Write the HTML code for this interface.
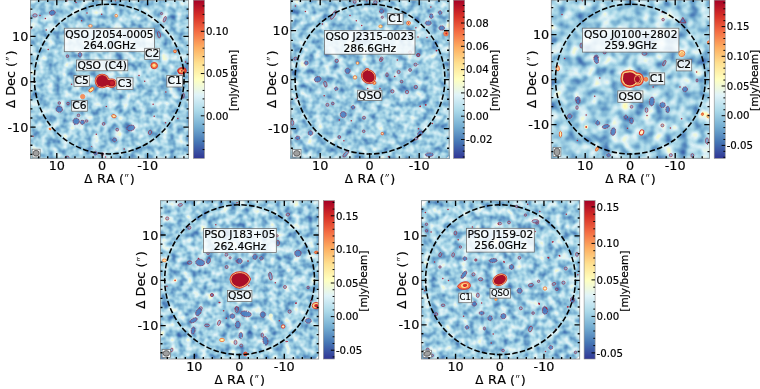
<!DOCTYPE html>
<html><head><meta charset="utf-8"><title>fig</title>
<style>html,body{margin:0;padding:0;background:#fff;overflow:hidden}svg{display:block}text{font-family:"DejaVu Sans","Liberation Sans",sans-serif;fill:#000;stroke:#000;stroke-width:0.18px}</style>
</head><body>
<svg width="760" height="389" viewBox="0 0 760 389">
<defs>
<filter id="rag" x="-2%" y="-2%" width="104%" height="104%"><feTurbulence type="fractalNoise" baseFrequency="0.3" numOctaves="1" seed="5" result="n"/><feDisplacementMap in="SourceGraphic" in2="n" scale="1.7" xChannelSelector="R" yChannelSelector="G"/></filter>
<filter id="nz1" x="0" y="0" width="100%" height="100%" color-interpolation-filters="sRGB">
<feTurbulence type="fractalNoise" baseFrequency="0.13" numOctaves="2" seed="3" result="t"/>
<feColorMatrix type="matrix" values="1 0 0 0 0  1 0 0 0 0  1 0 0 0 0  0 0 0 0 1"/>
<feComponentTransfer><feFuncR type="table" tableValues="0.216 0.225 0.233 0.241 0.250 0.258 0.266 0.280 0.300 0.319 0.339 0.358 0.378 0.398 0.417 0.437 0.457 0.480 0.503 0.526 0.549 0.571 0.594 0.617 0.640 0.663 0.686 0.708 0.730 0.752 0.774 0.796 0.818 0.840 0.863 0.882 0.895 0.908 0.921 0.934 0.947 0.960 0.973 0.986 0.998 1.000 0.999 0.999"/><feFuncG type="table" tableValues="0.287 0.314 0.340 0.366 0.393 0.419 0.445 0.470 0.493 0.517 0.540 0.564 0.587 0.610 0.634 0.657 0.680 0.698 0.717 0.735 0.753 0.772 0.790 0.808 0.827 0.845 0.858 0.869 0.880 0.891 0.902 0.913 0.923 0.934 0.945 0.954 0.959 0.964 0.969 0.974 0.979 0.984 0.989 0.994 0.999 0.989 0.976 0.963"/><feFuncB type="table" tableValues="0.622 0.635 0.647 0.660 0.673 0.686 0.699 0.712 0.724 0.736 0.748 0.760 0.772 0.784 0.796 0.808 0.820 0.830 0.840 0.850 0.860 0.870 0.880 0.891 0.901 0.911 0.918 0.924 0.931 0.937 0.943 0.949 0.956 0.962 0.968 0.966 0.942 0.918 0.895 0.871 0.847 0.823 0.799 0.776 0.752 0.732 0.712 0.693"/></feComponentTransfer>
</filter>
<linearGradient id="cb1" x1="0" y1="0" x2="0" y2="1"><stop offset="0%" stop-color="#a50026"/><stop offset="10%" stop-color="#d73027"/><stop offset="20%" stop-color="#f46d43"/><stop offset="30%" stop-color="#fdae61"/><stop offset="40%" stop-color="#fee090"/><stop offset="50%" stop-color="#ffffbf"/><stop offset="60%" stop-color="#e0f3f8"/><stop offset="70%" stop-color="#abd9e9"/><stop offset="80%" stop-color="#74add1"/><stop offset="90%" stop-color="#4575b4"/><stop offset="100%" stop-color="#313695"/></linearGradient>
<clipPath id="cl1"><rect x="30.4" y="0.1" width="158.2" height="158.2"/></clipPath>
<filter id="nz2" x="0" y="0" width="100%" height="100%" color-interpolation-filters="sRGB">
<feTurbulence type="fractalNoise" baseFrequency="0.13" numOctaves="2" seed="7" result="t"/>
<feColorMatrix type="matrix" values="1 0 0 0 0  1 0 0 0 0  1 0 0 0 0  0 0 0 0 1"/>
<feComponentTransfer><feFuncR type="table" tableValues="0.214 0.223 0.231 0.239 0.248 0.256 0.264 0.275 0.295 0.315 0.334 0.354 0.373 0.393 0.413 0.432 0.452 0.474 0.497 0.520 0.543 0.566 0.589 0.612 0.635 0.658 0.680 0.702 0.725 0.747 0.769 0.791 0.813 0.835 0.857 0.879 0.892 0.905 0.918 0.931 0.944 0.957 0.970 0.982 0.995 1.000 0.999 0.999"/><feFuncG type="table" tableValues="0.281 0.308 0.334 0.360 0.386 0.413 0.439 0.465 0.488 0.511 0.535 0.558 0.581 0.605 0.628 0.651 0.675 0.694 0.712 0.731 0.749 0.767 0.786 0.804 0.822 0.841 0.856 0.867 0.877 0.888 0.899 0.910 0.921 0.932 0.943 0.953 0.958 0.963 0.968 0.973 0.978 0.983 0.988 0.993 0.998 0.992 0.979 0.966"/><feFuncB type="table" tableValues="0.618 0.631 0.644 0.657 0.670 0.683 0.696 0.709 0.721 0.733 0.745 0.757 0.769 0.781 0.794 0.806 0.818 0.828 0.838 0.848 0.858 0.868 0.878 0.888 0.898 0.908 0.916 0.923 0.929 0.935 0.942 0.948 0.954 0.960 0.967 0.972 0.948 0.924 0.900 0.876 0.853 0.829 0.805 0.781 0.758 0.736 0.717 0.697"/></feComponentTransfer>
</filter>
<linearGradient id="cb2" x1="0" y1="0" x2="0" y2="1"><stop offset="0%" stop-color="#a50026"/><stop offset="10%" stop-color="#d73027"/><stop offset="20%" stop-color="#f46d43"/><stop offset="30%" stop-color="#fdae61"/><stop offset="40%" stop-color="#fee090"/><stop offset="50%" stop-color="#ffffbf"/><stop offset="60%" stop-color="#e0f3f8"/><stop offset="70%" stop-color="#abd9e9"/><stop offset="80%" stop-color="#74add1"/><stop offset="90%" stop-color="#4575b4"/><stop offset="100%" stop-color="#313695"/></linearGradient>
<clipPath id="cl2"><rect x="290.9" y="0.1" width="158.2" height="158.2"/></clipPath>
<filter id="nz3" x="0" y="0" width="100%" height="100%" color-interpolation-filters="sRGB">
<feTurbulence type="fractalNoise" baseFrequency="0.09" numOctaves="2" seed="11" result="t"/>
<feColorMatrix type="matrix" values="1 0 0 0 0  1 0 0 0 0  1 0 0 0 0  0 0 0 0 1"/>
<feComponentTransfer><feFuncR type="table" tableValues="0.193 0.203 0.212 0.221 0.231 0.240 0.249 0.259 0.268 0.286 0.308 0.330 0.352 0.374 0.396 0.418 0.440 0.463 0.489 0.515 0.540 0.566 0.592 0.617 0.643 0.669 0.694 0.718 0.743 0.768 0.793 0.817 0.842 0.867 0.886 0.901 0.915 0.930 0.944 0.959 0.973 0.988 1.000 0.999 0.999 0.999 0.998 0.998"/><feFuncG type="table" tableValues="0.215 0.244 0.274 0.303 0.333 0.362 0.392 0.421 0.450 0.478 0.504 0.530 0.556 0.582 0.608 0.635 0.661 0.685 0.706 0.726 0.747 0.767 0.788 0.808 0.829 0.850 0.862 0.874 0.887 0.899 0.911 0.923 0.935 0.947 0.956 0.962 0.967 0.973 0.978 0.984 0.990 0.995 0.998 0.983 0.969 0.954 0.940 0.926"/><feFuncB type="table" tableValues="0.586 0.600 0.615 0.629 0.644 0.658 0.673 0.687 0.702 0.716 0.729 0.743 0.756 0.770 0.783 0.797 0.810 0.823 0.834 0.846 0.857 0.868 0.879 0.890 0.902 0.913 0.920 0.927 0.934 0.941 0.948 0.955 0.962 0.969 0.958 0.932 0.905 0.878 0.852 0.825 0.798 0.772 0.746 0.724 0.702 0.680 0.658 0.636"/></feComponentTransfer>
</filter>
<linearGradient id="cb3" x1="0" y1="0" x2="0" y2="1"><stop offset="0%" stop-color="#a50026"/><stop offset="10%" stop-color="#d73027"/><stop offset="20%" stop-color="#f46d43"/><stop offset="30%" stop-color="#fdae61"/><stop offset="40%" stop-color="#fee090"/><stop offset="50%" stop-color="#ffffbf"/><stop offset="60%" stop-color="#e0f3f8"/><stop offset="70%" stop-color="#abd9e9"/><stop offset="80%" stop-color="#74add1"/><stop offset="90%" stop-color="#4575b4"/><stop offset="100%" stop-color="#313695"/></linearGradient>
<clipPath id="cl3"><rect x="551.3" y="0.1" width="158.2" height="158.2"/></clipPath>
<filter id="nz4" x="0" y="0" width="100%" height="100%" color-interpolation-filters="sRGB">
<feTurbulence type="fractalNoise" baseFrequency="0.13" numOctaves="2" seed="17" result="t"/>
<feColorMatrix type="matrix" values="1 0 0 0 0  1 0 0 0 0  1 0 0 0 0  0 0 0 0 1"/>
<feComponentTransfer><feFuncR type="table" tableValues="0.200 0.209 0.218 0.227 0.236 0.245 0.254 0.263 0.274 0.295 0.316 0.337 0.359 0.380 0.401 0.422 0.443 0.466 0.491 0.516 0.540 0.565 0.590 0.615 0.640 0.664 0.688 0.712 0.736 0.760 0.784 0.808 0.832 0.856 0.879 0.893 0.907 0.921 0.935 0.949 0.963 0.977 0.991 1.000 0.999 0.999 0.998 0.998"/><feFuncG type="table" tableValues="0.236 0.264 0.293 0.321 0.350 0.378 0.406 0.435 0.463 0.488 0.513 0.538 0.564 0.589 0.614 0.639 0.665 0.687 0.707 0.727 0.747 0.767 0.786 0.806 0.826 0.846 0.860 0.871 0.883 0.895 0.907 0.918 0.930 0.942 0.953 0.959 0.964 0.969 0.975 0.980 0.986 0.991 0.996 0.995 0.981 0.967 0.953 0.939"/><feFuncB type="table" tableValues="0.596 0.610 0.624 0.638 0.652 0.666 0.680 0.694 0.708 0.721 0.734 0.747 0.760 0.773 0.786 0.799 0.812 0.824 0.835 0.846 0.857 0.868 0.879 0.889 0.900 0.911 0.919 0.926 0.932 0.939 0.946 0.953 0.959 0.966 0.971 0.946 0.920 0.894 0.869 0.843 0.817 0.792 0.766 0.742 0.721 0.699 0.678 0.657"/></feComponentTransfer>
</filter>
<linearGradient id="cb4" x1="0" y1="0" x2="0" y2="1"><stop offset="0%" stop-color="#a50026"/><stop offset="10%" stop-color="#d73027"/><stop offset="20%" stop-color="#f46d43"/><stop offset="30%" stop-color="#fdae61"/><stop offset="40%" stop-color="#fee090"/><stop offset="50%" stop-color="#ffffbf"/><stop offset="60%" stop-color="#e0f3f8"/><stop offset="70%" stop-color="#abd9e9"/><stop offset="80%" stop-color="#74add1"/><stop offset="90%" stop-color="#4575b4"/><stop offset="100%" stop-color="#313695"/></linearGradient>
<clipPath id="cl4"><rect x="160.5" y="200.7" width="158.2" height="158.3"/></clipPath>
<filter id="nz5" x="0" y="0" width="100%" height="100%" color-interpolation-filters="sRGB">
<feTurbulence type="fractalNoise" baseFrequency="0.13" numOctaves="2" seed="23" result="t"/>
<feColorMatrix type="matrix" values="1 0 0 0 0  1 0 0 0 0  1 0 0 0 0  0 0 0 0 1"/>
<feComponentTransfer><feFuncR type="table" tableValues="0.217 0.225 0.233 0.242 0.250 0.258 0.267 0.281 0.300 0.320 0.340 0.359 0.379 0.399 0.418 0.438 0.458 0.481 0.504 0.527 0.550 0.572 0.595 0.618 0.641 0.664 0.687 0.709 0.731 0.753 0.775 0.797 0.819 0.841 0.863 0.883 0.896 0.908 0.921 0.934 0.947 0.960 0.973 0.986 0.999 1.000 0.999 0.999"/><feFuncG type="table" tableValues="0.289 0.315 0.341 0.367 0.394 0.420 0.446 0.471 0.494 0.518 0.541 0.565 0.588 0.611 0.635 0.658 0.681 0.699 0.717 0.736 0.754 0.772 0.791 0.809 0.828 0.846 0.859 0.870 0.881 0.891 0.902 0.913 0.924 0.935 0.946 0.955 0.960 0.965 0.970 0.975 0.980 0.985 0.990 0.995 1.000 0.988 0.975 0.962"/><feFuncB type="table" tableValues="0.622 0.635 0.648 0.661 0.674 0.687 0.700 0.712 0.724 0.736 0.749 0.761 0.773 0.785 0.797 0.809 0.821 0.831 0.841 0.851 0.861 0.871 0.881 0.891 0.901 0.911 0.918 0.925 0.931 0.937 0.943 0.950 0.956 0.962 0.968 0.965 0.941 0.917 0.893 0.870 0.846 0.822 0.798 0.775 0.751 0.731 0.711 0.692"/></feComponentTransfer>
</filter>
<linearGradient id="cb5" x1="0" y1="0" x2="0" y2="1"><stop offset="0%" stop-color="#a50026"/><stop offset="10%" stop-color="#d73027"/><stop offset="20%" stop-color="#f46d43"/><stop offset="30%" stop-color="#fdae61"/><stop offset="40%" stop-color="#fee090"/><stop offset="50%" stop-color="#ffffbf"/><stop offset="60%" stop-color="#e0f3f8"/><stop offset="70%" stop-color="#abd9e9"/><stop offset="80%" stop-color="#74add1"/><stop offset="90%" stop-color="#4575b4"/><stop offset="100%" stop-color="#313695"/></linearGradient>
<clipPath id="cl5"><rect x="421.4" y="200.7" width="158.3" height="158.3"/></clipPath>
</defs>
<rect width="760" height="389" fill="#fff"/>
<g opacity="0.999">
<rect x="30.4" y="0.1" width="158.2" height="158.2" fill="#9acbe1" filter="url(#nz1)"/>
<g clip-path="url(#cl1)">
<g filter="url(#rag)"><ellipse cx="35" cy="15.4" rx="2.2" ry="1.7" transform="rotate(0 35 15.4)" fill="#4377bd" fill-opacity="0.45" stroke="#9c1f3a" stroke-width="0.6"/><ellipse cx="52.3" cy="12.8" rx="3" ry="2.4" transform="rotate(-20 52.3 12.8)" fill="#4377bd" fill-opacity="0.85" stroke="#9c1f3a" stroke-width="0.6" stroke-dasharray="1.7 0.6"/><ellipse cx="80" cy="54.7" rx="1.8" ry="2.5" transform="rotate(0 80 54.7)" fill="#4377bd" fill-opacity="0.85" stroke="#9c1f3a" stroke-width="0.6" stroke-dasharray="1.7 0.6"/><ellipse cx="67.4" cy="56.2" rx="1.3" ry="1.3" transform="rotate(0 67.4 56.2)" fill="#4377bd" fill-opacity="0.45" stroke="#9c1f3a" stroke-width="0.6"/><ellipse cx="164.7" cy="19.3" rx="1.2" ry="3" transform="rotate(20 164.7 19.3)" fill="#4377bd" fill-opacity="0.45" stroke="#9c1f3a" stroke-width="0.6"/><ellipse cx="159" cy="34.7" rx="1.5" ry="3.2" transform="rotate(-10 159 34.7)" fill="#4377bd" fill-opacity="0.45" stroke="#9c1f3a" stroke-width="0.6"/><ellipse cx="161.6" cy="13.6" rx="1.1" ry="1.1" transform="rotate(0 161.6 13.6)" fill="#4377bd" fill-opacity="0.45" stroke="#9c1f3a" stroke-width="0.6"/><ellipse cx="59.3" cy="109.3" rx="3.2" ry="3" transform="rotate(0 59.3 109.3)" fill="#4377bd" fill-opacity="0.85" stroke="#9c1f3a" stroke-width="0.6" stroke-dasharray="1.7 0.6"/><ellipse cx="59.3" cy="103" rx="1.3" ry="1.3" transform="rotate(0 59.3 103)" fill="#4377bd" fill-opacity="0.45" stroke="#9c1f3a" stroke-width="0.6"/><ellipse cx="68" cy="103.6" rx="1.3" ry="1.3" transform="rotate(0 68 103.6)" fill="#4377bd" fill-opacity="0.45" stroke="#9c1f3a" stroke-width="0.6"/><ellipse cx="76.2" cy="121.3" rx="3.2" ry="3" transform="rotate(0 76.2 121.3)" fill="#4377bd" fill-opacity="0.85" stroke="#9c1f3a" stroke-width="0.6" stroke-dasharray="1.7 0.6"/><ellipse cx="82.4" cy="122.3" rx="2" ry="2.2" transform="rotate(0 82.4 122.3)" fill="#4377bd" fill-opacity="0.85" stroke="#9c1f3a" stroke-width="0.6" stroke-dasharray="1.7 0.6"/><ellipse cx="86.5" cy="121" rx="1.6" ry="1.1" transform="rotate(0 86.5 121)" fill="#4377bd" fill-opacity="0.45" stroke="#9c1f3a" stroke-width="0.6"/><ellipse cx="78.5" cy="115.4" rx="1.3" ry="1.3" transform="rotate(0 78.5 115.4)" fill="#4377bd" fill-opacity="0.45" stroke="#9c1f3a" stroke-width="0.6"/><ellipse cx="130.8" cy="128" rx="4" ry="2.8" transform="rotate(-15 130.8 128)" fill="#4377bd" fill-opacity="0.85" stroke="#9c1f3a" stroke-width="0.6" stroke-dasharray="1.7 0.6"/><ellipse cx="117.2" cy="129.7" rx="1.4" ry="1.4" transform="rotate(0 117.2 129.7)" fill="#4377bd" fill-opacity="0.45" stroke="#9c1f3a" stroke-width="0.6"/><ellipse cx="114.6" cy="139.8" rx="2" ry="2" transform="rotate(0 114.6 139.8)" fill="#4377bd" fill-opacity="0.85" stroke="#9c1f3a" stroke-width="0.6" stroke-dasharray="1.7 0.6"/><ellipse cx="150" cy="132.4" rx="1.6" ry="2.2" transform="rotate(20 150 132.4)" fill="#4377bd" fill-opacity="0.45" stroke="#9c1f3a" stroke-width="0.6"/><ellipse cx="103.6" cy="123.9" rx="1.4" ry="1.4" transform="rotate(0 103.6 123.9)" fill="#4377bd" fill-opacity="0.45" stroke="#9c1f3a" stroke-width="0.6"/><ellipse cx="95.5" cy="153.2" rx="1.9" ry="1.9" transform="rotate(0 95.5 153.2)" fill="#4377bd" fill-opacity="0.85" stroke="#9c1f3a" stroke-width="0.6" stroke-dasharray="1.7 0.6"/><ellipse cx="102.4" cy="154.2" rx="1.4" ry="1.4" transform="rotate(0 102.4 154.2)" fill="#4377bd" fill-opacity="0.45" stroke="#9c1f3a" stroke-width="0.6"/><ellipse cx="67" cy="157.6" rx="2" ry="1.5" transform="rotate(0 67 157.6)" fill="#4377bd" fill-opacity="0.45" stroke="#9c1f3a" stroke-width="0.6"/><ellipse cx="183.2" cy="95.8" rx="1" ry="2.6" transform="rotate(10 183.2 95.8)" fill="#4377bd" fill-opacity="0.45" stroke="#9c1f3a" stroke-width="0.6"/><circle cx="40" cy="15.4" r="0.75" fill="#a8283f"/><circle cx="45.4" cy="18.5" r="0.75" fill="#a8283f"/><circle cx="67" cy="0.8" r="0.75" fill="#a8283f"/><circle cx="76" cy="2.5" r="0.75" fill="#a8283f"/><circle cx="87" cy="13" r="0.75" fill="#a8283f"/><circle cx="101.7" cy="14.2" r="0.75" fill="#a8283f"/><circle cx="81.6" cy="20.8" r="0.75" fill="#a8283f"/><circle cx="48.2" cy="49.6" r="0.75" fill="#a8283f"/><circle cx="46.2" cy="30" r="0.75" fill="#a8283f"/><circle cx="31" cy="28.5" r="0.75" fill="#a8283f"/><circle cx="115.4" cy="0.8" r="0.75" fill="#a8283f"/><circle cx="139" cy="75.5" r="0.75" fill="#a8283f"/><circle cx="144.7" cy="81.2" r="0.75" fill="#a8283f"/><circle cx="165.8" cy="92" r="0.75" fill="#a8283f"/><circle cx="153.1" cy="104.3" r="0.75" fill="#a8283f"/><circle cx="185.5" cy="62" r="0.75" fill="#a8283f"/><circle cx="154.2" cy="116.2" r="0.75" fill="#a8283f"/><circle cx="165.5" cy="122.8" r="0.75" fill="#a8283f"/><circle cx="177.8" cy="118.5" r="0.75" fill="#a8283f"/><circle cx="124.2" cy="149" r="0.75" fill="#a8283f"/><circle cx="71.6" cy="84.3" r="0.75" fill="#a8283f"/><circle cx="106.3" cy="106.6" r="0.75" fill="#a8283f"/><circle cx="96.3" cy="134.2" r="0.75" fill="#a8283f"/><circle cx="33" cy="136.2" r="0.75" fill="#a8283f"/><circle cx="91.6" cy="147" r="0.75" fill="#a8283f"/><circle cx="105.5" cy="157" r="0.75" fill="#a8283f"/><ellipse cx="90.4" cy="25.9" rx="1.8" ry="1.2" transform="rotate(0 90.4 25.9)" fill="#fff5d8" stroke="#ee7a40" stroke-width="0.9"/><ellipse cx="116.2" cy="15.7" rx="1.3" ry="1.3" transform="rotate(0 116.2 15.7)" fill="#fff0c0" stroke="#ee7a40" stroke-width="0.9"/><ellipse cx="175" cy="51.3" rx="1.4" ry="1.4" transform="rotate(0 175 51.3)" fill="#fdb56a" stroke="#e2592f" stroke-width="0.9"/><ellipse cx="113.9" cy="116.2" rx="2.2" ry="1.5" transform="rotate(15 113.9 116.2)" fill="#fee9a5" stroke="#e2592f" stroke-width="0.9"/><ellipse cx="50" cy="129" rx="1" ry="0.6" transform="rotate(30 50 129)" fill="#f98e52" stroke="#ee7a40" stroke-width="0.9"/></g><ellipse cx="82.7" cy="96.6" rx="2.2" ry="2.2" transform="rotate(0 82.7 96.6)" fill="#f4925f" stroke="#f08a5a" stroke-width="0.9"/><ellipse cx="91.4" cy="89.7" rx="3" ry="1.6" transform="rotate(-38 91.4 89.7)" fill="#ffe68f" stroke="#e6622f" stroke-width="0.9"/><ellipse cx="154.2" cy="65.6" rx="3.3" ry="3.1" transform="rotate(0 154.2 65.6)" fill="#f57f4a" stroke="#d73027" stroke-width="0.9"/><circle cx="154.1" cy="65.3" r="1.6" fill="#fee08b"/><ellipse cx="182" cy="70.8" rx="4.3" ry="3.2" transform="rotate(-8 182 70.8)" fill="#e5502f" stroke="#c4202a" stroke-width="0.9"/><ellipse cx="181.4" cy="70.9" rx="2.3" ry="1.7" fill="#fdd27a"/><ellipse cx="181.8" cy="70.9" rx="1.1" ry="0.8" fill="#c4202a"/><ellipse cx="102.1" cy="81.0" rx="7.35" ry="7.25" transform="rotate(0 102.1 81.0)" fill="#d73027"/><ellipse cx="111.6" cy="83.2" rx="5.15" ry="4.75" transform="rotate(0 111.6 83.2)" fill="#d73027"/><ellipse cx="107" cy="82.4" rx="4.75" ry="4.35" transform="rotate(0 107 82.4)" fill="#d73027"/><ellipse cx="102.1" cy="81.0" rx="6.6" ry="6.5" transform="rotate(0 102.1 81.0)" fill="#fdc776"/><ellipse cx="111.6" cy="83.2" rx="4.3999999999999995" ry="4.0" transform="rotate(0 111.6 83.2)" fill="#fdc776"/><ellipse cx="107" cy="82.4" rx="4.0" ry="3.6" transform="rotate(0 107 82.4)" fill="#fdc776"/><ellipse cx="102.1" cy="81.0" rx="6.0" ry="5.9" transform="rotate(0 102.1 81.0)" fill="#a90f28"/><ellipse cx="111.6" cy="83.2" rx="3.8" ry="3.4" transform="rotate(0 111.6 83.2)" fill="#a90f28"/><ellipse cx="107" cy="82.4" rx="3.4" ry="3.0" transform="rotate(0 107 82.4)" fill="#a90f28"/><circle cx="112" cy="83" r="2.1" fill="#c4202c"/>
<circle cx="109.2" cy="79.05" r="74.85" fill="none" stroke="#000" stroke-width="1.55" stroke-dasharray="5.5 2.2"/>
<rect x="64.3" y="28.2" width="90.2" height="23.5" fill="#fff" fill-opacity="0.82" stroke="#6a6a6a" stroke-width="0.75"/><text x="109.4" y="37.6" font-size="10.7" text-anchor="middle" stroke-width="0.15">QSO J2054-0005</text><text x="109.4" y="49.1" font-size="10.7" text-anchor="middle" stroke-width="0.15">264.0GHz</text><rect x="76.5" y="60" width="51.3" height="10.8" fill="#fff" fill-opacity="0.82" stroke="#6a6a6a" stroke-width="0.75"/><text x="102.2" y="68.5" font-size="10.7" text-anchor="middle" stroke-width="0.15">QSO (C4)</text><rect x="74" y="75.6" width="15.3" height="10.7" fill="#fff" fill-opacity="0.82" stroke="#6a6a6a" stroke-width="0.75"/><text x="81.7" y="84.0" font-size="10.7" text-anchor="middle" stroke-width="0.15">C5</text><rect x="116.8" y="77.8" width="16.2" height="11.8" fill="#fff" fill-opacity="0.82" stroke="#6a6a6a" stroke-width="0.75"/><text x="124.9" y="86.8" font-size="10.7" text-anchor="middle" stroke-width="0.15">C3</text><rect x="71.7" y="100.5" width="15.6" height="10.7" fill="#fff" fill-opacity="0.82" stroke="#6a6a6a" stroke-width="0.75"/><text x="79.5" y="109.0" font-size="10.7" text-anchor="middle" stroke-width="0.15">C6</text><rect x="144.7" y="48.3" width="14.9" height="11.1" fill="#fff" fill-opacity="0.82" stroke="#6a6a6a" stroke-width="0.75"/><text x="152.1" y="56.9" font-size="10.7" text-anchor="middle" stroke-width="0.15">C2</text><rect x="166.8" y="75.5" width="15.7" height="11.5" fill="#fff" fill-opacity="0.82" stroke="#6a6a6a" stroke-width="0.75"/><text x="174.7" y="84.4" font-size="10.7" text-anchor="middle" stroke-width="0.15">C1</text>
</g>
<rect x="32.1" y="149.2" width="8.0" height="7.9" fill="#fff" fill-opacity="0.9" stroke="#707070" stroke-width="0.7"/>
<ellipse cx="36.1" cy="153.2" rx="3.0" ry="2.9" transform="rotate(0 36.1 153.2)" fill="#a0a0a0" stroke="#505050" stroke-width="0.8"/>
<rect x="30.4" y="0.1" width="158.2" height="158.2" fill="none" stroke="#8a8a8a" stroke-width="0.8"/>
<path d="M183.92 0.1v2.0M183.92 158.29999999999998v-2.0M174.84 0.1v2.0M174.84 158.29999999999998v-2.0M30.4 154.34h2.0M188.6 154.34h-2.0M165.76 0.1v2.0M165.76 158.29999999999998v-2.0M30.4 145.26h2.0M188.6 145.26h-2.0M156.68 0.1v2.0M156.68 158.29999999999998v-2.0M30.4 136.18h2.0M188.6 136.18h-2.0M147.60 0.1v5.2M147.60 158.29999999999998v-5.2M30.4 127.10h5.2M188.6 127.10h-5.2M138.52 0.1v2.0M138.52 158.29999999999998v-2.0M30.4 118.02h2.0M188.6 118.02h-2.0M129.44 0.1v2.0M129.44 158.29999999999998v-2.0M30.4 108.94h2.0M188.6 108.94h-2.0M120.36 0.1v2.0M120.36 158.29999999999998v-2.0M30.4 99.86h2.0M188.6 99.86h-2.0M111.28 0.1v2.0M111.28 158.29999999999998v-2.0M30.4 90.78h2.0M188.6 90.78h-2.0M102.20 0.1v5.2M102.20 158.29999999999998v-5.2M30.4 81.70h5.2M188.6 81.70h-5.2M93.12 0.1v2.0M93.12 158.29999999999998v-2.0M30.4 72.62h2.0M188.6 72.62h-2.0M84.04 0.1v2.0M84.04 158.29999999999998v-2.0M30.4 63.54h2.0M188.6 63.54h-2.0M74.96 0.1v2.0M74.96 158.29999999999998v-2.0M30.4 54.46h2.0M188.6 54.46h-2.0M65.88 0.1v2.0M65.88 158.29999999999998v-2.0M30.4 45.38h2.0M188.6 45.38h-2.0M56.80 0.1v5.2M56.80 158.29999999999998v-5.2M30.4 36.30h5.2M188.6 36.30h-5.2M47.72 0.1v2.0M47.72 158.29999999999998v-2.0M30.4 27.22h2.0M188.6 27.22h-2.0M38.64 0.1v2.0M38.64 158.29999999999998v-2.0M30.4 18.14h2.0M188.6 18.14h-2.0M30.4 9.06h2.0M188.6 9.06h-2.0" stroke="#000" stroke-width="1.35" fill="none"/>
<text x="56.8" y="170.2" font-size="12.8" text-anchor="middle">10</text>
<text x="28.3" y="40.9" font-size="12.8" text-anchor="end">10</text>
<text x="102.2" y="170.2" font-size="12.8" text-anchor="middle">0</text>
<text x="28.3" y="86.3" font-size="12.8" text-anchor="end">0</text>
<text x="147.6" y="170.2" font-size="12.8" text-anchor="middle">-10</text>
<text x="28.3" y="131.7" font-size="12.8" text-anchor="end">-10</text>
<text y="182.8" font-size="12.8" style="font-kerning:none"><tspan x="84.3" font-size="11.9">Δ</tspan><tspan x="97.0">R</tspan><tspan x="106.2">A (</tspan><tspan x="129.8">)</tspan></text>
<text x="124.8" y="187.2" font-size="18" textLength="3.9" lengthAdjust="spacingAndGlyphs" stroke-width="0.1">′′</text>
<g transform="translate(15.0 79.4) rotate(-90)"><text y="0" font-size="12.8" style="font-kerning:none"><tspan x="-28.7" font-size="11.9">Δ</tspan><tspan x="-16.4">Dec (</tspan><tspan x="23.8">)</tspan></text><text x="18.8" y="4.4" font-size="18" textLength="3.9" lengthAdjust="spacingAndGlyphs" stroke-width="0.1">′′</text></g>
<rect x="193.4" y="0.1" width="11" height="158.2" fill="url(#cb1)" stroke="#8a8a8a" stroke-width="0.6"/>
<text x="205.9" y="119.5" font-size="10.2" stroke-width="0.28">0.00</text>
<text x="205.9" y="77.2" font-size="10.2" stroke-width="0.28">0.05</text>
<text x="205.9" y="35.0" font-size="10.2" stroke-width="0.28">0.10</text>
<path d="M204.4 149.60h-1.8M204.4 141.15h-1.8M204.4 132.70h-1.8M204.4 124.25h-1.8M204.4 115.80h-3.6M204.4 107.35h-1.8M204.4 98.90h-1.8M204.4 90.45h-1.8M204.4 82.00h-1.8M204.4 73.55h-3.6M204.4 65.10h-1.8M204.4 56.65h-1.8M204.4 48.20h-1.8M204.4 39.75h-1.8M204.4 31.30h-3.6M204.4 22.85h-1.8M204.4 14.40h-1.8M204.4 5.95h-1.8" stroke="#000" stroke-width="1" fill="none"/>
<text transform="translate(237.3 80.4) rotate(-90)" font-size="10.5" text-anchor="middle" stroke-width="0.25">[mJy/beam]</text>
<rect x="290.9" y="0.1" width="158.2" height="158.2" fill="#98cae1" filter="url(#nz2)"/>
<g clip-path="url(#cl2)">
<g filter="url(#rag)"><path d="M449.1 158.3h-2.4l2.4-2.6z" fill="#fff"/><ellipse cx="333.5" cy="15" rx="1.6" ry="5" transform="rotate(32 333.5 15)" fill="#4377bd" fill-opacity="0.45" stroke="#9c1f3a" stroke-width="0.6"/><ellipse cx="354.7" cy="1.8" rx="1.5" ry="1.5" transform="rotate(0 354.7 1.8)" fill="#4377bd" fill-opacity="0.45" stroke="#9c1f3a" stroke-width="0.6"/><ellipse cx="295.4" cy="58.6" rx="1.5" ry="1.5" transform="rotate(0 295.4 58.6)" fill="#4377bd" fill-opacity="0.45" stroke="#9c1f3a" stroke-width="0.6"/><ellipse cx="381.6" cy="11.1" rx="2.2" ry="2.2" transform="rotate(0 381.6 11.1)" fill="#4377bd" fill-opacity="0.85" stroke="#9c1f3a" stroke-width="0.6" stroke-dasharray="1.7 0.6"/><ellipse cx="375.4" cy="2.3" rx="1.7" ry="1.7" transform="rotate(0 375.4 2.3)" fill="#4377bd" fill-opacity="0.45" stroke="#9c1f3a" stroke-width="0.6"/><ellipse cx="382.3" cy="17.3" rx="1.1" ry="1.1" transform="rotate(0 382.3 17.3)" fill="#4377bd" fill-opacity="0.45" stroke="#9c1f3a" stroke-width="0.6"/><ellipse cx="428.2" cy="23.1" rx="3" ry="2.2" transform="rotate(0 428.2 23.1)" fill="#4377bd" fill-opacity="0.85" stroke="#9c1f3a" stroke-width="0.6" stroke-dasharray="1.7 0.6"/><ellipse cx="431.3" cy="16.2" rx="1.8" ry="2.4" transform="rotate(0 431.3 16.2)" fill="#4377bd" fill-opacity="0.85" stroke="#9c1f3a" stroke-width="0.6" stroke-dasharray="1.7 0.6"/><ellipse cx="440.1" cy="12.6" rx="1.8" ry="1.8" transform="rotate(0 440.1 12.6)" fill="#4377bd" fill-opacity="0.85" stroke="#9c1f3a" stroke-width="0.6" stroke-dasharray="1.7 0.6"/><ellipse cx="441.7" cy="28" rx="2.8" ry="2.2" transform="rotate(0 441.7 28)" fill="#4377bd" fill-opacity="0.85" stroke="#9c1f3a" stroke-width="0.6" stroke-dasharray="1.7 0.6"/><ellipse cx="418.5" cy="55" rx="1.5" ry="1.5" transform="rotate(0 418.5 55)" fill="#4377bd" fill-opacity="0.45" stroke="#9c1f3a" stroke-width="0.6"/><ellipse cx="381.6" cy="58.6" rx="1.5" ry="1.5" transform="rotate(0 381.6 58.6)" fill="#4377bd" fill-opacity="0.45" stroke="#9c1f3a" stroke-width="0.6"/><ellipse cx="306.2" cy="63.1" rx="2" ry="2" transform="rotate(0 306.2 63.1)" fill="#4377bd" fill-opacity="0.85" stroke="#9c1f3a" stroke-width="0.6" stroke-dasharray="1.7 0.6"/><ellipse cx="336.7" cy="60.8" rx="1.7" ry="1.7" transform="rotate(0 336.7 60.8)" fill="#4377bd" fill-opacity="0.45" stroke="#9c1f3a" stroke-width="0.6"/><ellipse cx="347.6" cy="70.8" rx="2.6" ry="2.6" transform="rotate(0 347.6 70.8)" fill="#4377bd" fill-opacity="0.85" stroke="#9c1f3a" stroke-width="0.6" stroke-dasharray="1.7 0.6"/><ellipse cx="317.7" cy="79.3" rx="3.4" ry="2.6" transform="rotate(-20 317.7 79.3)" fill="#4377bd" fill-opacity="0.85" stroke="#9c1f3a" stroke-width="0.6" stroke-dasharray="1.7 0.6"/><ellipse cx="325.4" cy="84.2" rx="1.5" ry="3" transform="rotate(-15 325.4 84.2)" fill="#4377bd" fill-opacity="0.45" stroke="#9c1f3a" stroke-width="0.6"/><ellipse cx="336.2" cy="88.8" rx="1.8" ry="1.8" transform="rotate(0 336.2 88.8)" fill="#4377bd" fill-opacity="0.85" stroke="#9c1f3a" stroke-width="0.6" stroke-dasharray="1.7 0.6"/><circle cx="324.2" cy="95.8" r="0.8" fill="#a8283f"/><ellipse cx="327.4" cy="104.8" rx="1.5" ry="1.5" transform="rotate(0 327.4 104.8)" fill="#4377bd" fill-opacity="0.45" stroke="#9c1f3a" stroke-width="0.6"/><ellipse cx="332.8" cy="103.5" rx="1.3" ry="1.3" transform="rotate(0 332.8 103.5)" fill="#4377bd" fill-opacity="0.45" stroke="#9c1f3a" stroke-width="0.6"/><ellipse cx="353.1" cy="107.2" rx="1.8" ry="1.8" transform="rotate(0 353.1 107.2)" fill="#4377bd" fill-opacity="0.85" stroke="#9c1f3a" stroke-width="0.6" stroke-dasharray="1.7 0.6"/><ellipse cx="380.8" cy="60" rx="1.5" ry="1.5" transform="rotate(0 380.8 60)" fill="#4377bd" fill-opacity="0.45" stroke="#9c1f3a" stroke-width="0.6"/><ellipse cx="387" cy="74.7" rx="1.2" ry="2" transform="rotate(0 387 74.7)" fill="#4377bd" fill-opacity="0.45" stroke="#9c1f3a" stroke-width="0.6"/><ellipse cx="398.6" cy="72" rx="1.6" ry="1.6" transform="rotate(0 398.6 72)" fill="#4377bd" fill-opacity="0.45" stroke="#9c1f3a" stroke-width="0.6"/><circle cx="394.7" cy="76.5" r="0.8" fill="#a8283f"/><ellipse cx="410.1" cy="70" rx="1.4" ry="1.4" transform="rotate(0 410.1 70)" fill="#4377bd" fill-opacity="0.45" stroke="#9c1f3a" stroke-width="0.6"/><ellipse cx="415.5" cy="64.6" rx="1.5" ry="1.5" transform="rotate(0 415.5 64.6)" fill="#4377bd" fill-opacity="0.45" stroke="#9c1f3a" stroke-width="0.6"/><ellipse cx="401.6" cy="81.6" rx="1.3" ry="1.3" transform="rotate(0 401.6 81.6)" fill="#4377bd" fill-opacity="0.45" stroke="#9c1f3a" stroke-width="0.6"/><ellipse cx="392.4" cy="91.3" rx="1.6" ry="1.6" transform="rotate(0 392.4 91.3)" fill="#4377bd" fill-opacity="0.45" stroke="#9c1f3a" stroke-width="0.6"/><ellipse cx="407" cy="92.1" rx="1.7" ry="1.7" transform="rotate(0 407 92.1)" fill="#4377bd" fill-opacity="0.45" stroke="#9c1f3a" stroke-width="0.6"/><ellipse cx="415.8" cy="87" rx="1.7" ry="1.7" transform="rotate(0 415.8 87)" fill="#4377bd" fill-opacity="0.45" stroke="#9c1f3a" stroke-width="0.6"/><ellipse cx="410.1" cy="52.3" rx="1.5" ry="1.5" transform="rotate(0 410.1 52.3)" fill="#4377bd" fill-opacity="0.45" stroke="#9c1f3a" stroke-width="0.6"/><ellipse cx="418" cy="55.1" rx="1.5" ry="1.5" transform="rotate(0 418 55.1)" fill="#4377bd" fill-opacity="0.45" stroke="#9c1f3a" stroke-width="0.6"/><ellipse cx="343.2" cy="114.6" rx="3" ry="3" transform="rotate(0 343.2 114.6)" fill="#4377bd" fill-opacity="0.85" stroke="#9c1f3a" stroke-width="0.6" stroke-dasharray="1.7 0.6"/><ellipse cx="364" cy="117.7" rx="1.5" ry="1.5" transform="rotate(0 364 117.7)" fill="#4377bd" fill-opacity="0.45" stroke="#9c1f3a" stroke-width="0.6"/><ellipse cx="363.7" cy="131.3" rx="1.3" ry="1.3" transform="rotate(0 363.7 131.3)" fill="#4377bd" fill-opacity="0.45" stroke="#9c1f3a" stroke-width="0.6"/><ellipse cx="310.5" cy="133.1" rx="2.3" ry="2.3" transform="rotate(0 310.5 133.1)" fill="#4377bd" fill-opacity="0.85" stroke="#9c1f3a" stroke-width="0.6" stroke-dasharray="1.7 0.6"/><ellipse cx="297.7" cy="137.8" rx="2.2" ry="1.8" transform="rotate(0 297.7 137.8)" fill="#4377bd" fill-opacity="0.85" stroke="#9c1f3a" stroke-width="0.6" stroke-dasharray="1.7 0.6"/><ellipse cx="292.3" cy="122.8" rx="1.5" ry="2.5" transform="rotate(0 292.3 122.8)" fill="#4377bd" fill-opacity="0.45" stroke="#9c1f3a" stroke-width="0.6"/><ellipse cx="339.3" cy="137" rx="1.4" ry="1.4" transform="rotate(0 339.3 137)" fill="#4377bd" fill-opacity="0.45" stroke="#9c1f3a" stroke-width="0.6"/><ellipse cx="345.8" cy="153.9" rx="1.5" ry="4" transform="rotate(40 345.8 153.9)" fill="#4377bd" fill-opacity="0.45" stroke="#9c1f3a" stroke-width="0.6"/><ellipse cx="420.1" cy="133.6" rx="3" ry="1.9" transform="rotate(-40 420.1 133.6)" fill="#4377bd" fill-opacity="0.85" stroke="#9c1f3a" stroke-width="0.6" stroke-dasharray="1.7 0.6"/><ellipse cx="416.2" cy="138.5" rx="2" ry="1.2" transform="rotate(-30 416.2 138.5)" fill="#4377bd" fill-opacity="0.45" stroke="#9c1f3a" stroke-width="0.6"/><ellipse cx="429.3" cy="154.7" rx="4" ry="1.8" transform="rotate(0 429.3 154.7)" fill="#4377bd" fill-opacity="0.85" stroke="#9c1f3a" stroke-width="0.6" stroke-dasharray="1.7 0.6"/><circle cx="418.5" cy="128.8" r="0.8" fill="#a8283f"/><circle cx="295.4" cy="5.9" r="0.75" fill="#a8283f"/><circle cx="305.4" cy="11.6" r="0.75" fill="#a8283f"/><circle cx="322.4" cy="23.9" r="0.75" fill="#a8283f"/><circle cx="350" cy="15.4" r="0.75" fill="#a8283f"/><circle cx="356.3" cy="20.8" r="0.75" fill="#a8283f"/><circle cx="361.7" cy="25.4" r="0.75" fill="#a8283f"/><circle cx="366.7" cy="0.8" r="0.75" fill="#a8283f"/><circle cx="415.9" cy="27.7" r="0.75" fill="#a8283f"/><circle cx="418" cy="37" r="0.75" fill="#a8283f"/><circle cx="427" cy="37.4" r="0.75" fill="#a8283f"/><circle cx="430.9" cy="6.9" r="0.75" fill="#a8283f"/><circle cx="436.3" cy="50.8" r="0.75" fill="#a8283f"/><circle cx="296.2" cy="98.5" r="0.75" fill="#a8283f"/><circle cx="397.3" cy="60" r="0.75" fill="#a8283f"/><circle cx="367.7" cy="88.5" r="0.75" fill="#a8283f"/><circle cx="380" cy="88.5" r="0.75" fill="#a8283f"/><circle cx="339.3" cy="120" r="0.75" fill="#a8283f"/><circle cx="351.3" cy="120.8" r="0.75" fill="#a8283f"/><circle cx="343.9" cy="140.8" r="0.75" fill="#a8283f"/><circle cx="420.1" cy="106.5" r="0.75" fill="#a8283f"/><circle cx="425.8" cy="104.9" r="0.75" fill="#a8283f"/><circle cx="432.4" cy="123.4" r="0.75" fill="#a8283f"/><circle cx="388.5" cy="156.7" r="0.75" fill="#a8283f"/><circle cx="436.7" cy="50.6" r="0.75" fill="#a8283f"/><circle cx="420.3" cy="106.2" r="0.75" fill="#a8283f"/><circle cx="425.7" cy="104.7" r="0.75" fill="#a8283f"/></g><ellipse cx="408.5" cy="23.1" rx="1.9" ry="1.9" transform="rotate(0 408.5 23.1)" fill="#fee3a0" stroke="#ea6a35" stroke-width="0.9"/><circle cx="408.5" cy="23.1" r="0.8" fill="#c8202c"/><ellipse cx="380.5" cy="26.3" rx="1.7" ry="1.3" transform="rotate(0 380.5 26.3)" fill="#fff2a8" stroke="#f08a4a" stroke-width="0.9"/><ellipse cx="446" cy="33.6" rx="2.3" ry="2.3" transform="rotate(0 446 33.6)" fill="#f68a55" stroke="#ef7045" stroke-width="0.9"/><circle cx="446.3" cy="33.6" r="1" fill="#c8202c"/><ellipse cx="357.5" cy="63.1" rx="1.2" ry="1.2" transform="rotate(0 357.5 63.1)" fill="#fff2c0" stroke="#f08a4a" stroke-width="0.9"/><ellipse cx="355" cy="77.4" rx="1.7" ry="1.7" transform="rotate(0 355 77.4)" fill="#fff2c0" stroke="#ee7a40" stroke-width="0.9"/><ellipse cx="382.3" cy="133.6" rx="1.2" ry="1.2" transform="rotate(0 382.3 133.6)" fill="#fde0b0" stroke="#e2592f" stroke-width="0.9"/><ellipse cx="374.3" cy="82.8" rx="1.6" ry="1.6" transform="rotate(0 374.3 82.8)" fill="#fdbb6e" stroke="#e6622f" stroke-width="0.9"/><ellipse cx="368.5" cy="76.6" rx="7.949999999999999" ry="6.949999999999999" transform="rotate(40 368.5 76.6)" fill="#d73027"/><ellipse cx="367.2" cy="70.2" rx="2.1500000000000004" ry="2.1500000000000004" transform="rotate(0 367.2 70.2)" fill="#d73027"/><ellipse cx="368.5" cy="76.6" rx="7.199999999999999" ry="6.199999999999999" transform="rotate(40 368.5 76.6)" fill="#fdc776"/><ellipse cx="367.2" cy="70.2" rx="1.4" ry="1.4" transform="rotate(0 367.2 70.2)" fill="#fdc776"/><ellipse cx="368.5" cy="76.6" rx="6.6" ry="5.6" transform="rotate(40 368.5 76.6)" fill="#a90f28"/><ellipse cx="367.2" cy="70.2" rx="0.8" ry="0.8" transform="rotate(0 367.2 70.2)" fill="#a90f28"/>
<circle cx="370.0" cy="79.1" r="74.9" fill="none" stroke="#000" stroke-width="1.55" stroke-dasharray="5.5 2.2"/>
<rect x="324.5" y="30.6" width="90.5" height="23.6" fill="#fff" fill-opacity="0.82" stroke="#6a6a6a" stroke-width="0.75"/><text x="369.8" y="40.1" font-size="10.7" text-anchor="middle" stroke-width="0.15">QSO J2315-0023</text><text x="369.8" y="51.6" font-size="10.7" text-anchor="middle" stroke-width="0.15">286.6GHz</text><rect x="387.7" y="13.6" width="15.4" height="11.1" fill="#fff" fill-opacity="0.82" stroke="#6a6a6a" stroke-width="0.75"/><text x="395.4" y="22.2" font-size="10.7" text-anchor="middle" stroke-width="0.15">C1</text><rect x="357.7" y="90.2" width="24.2" height="10.4" fill="#fff" fill-opacity="0.82" stroke="#6a6a6a" stroke-width="0.75"/><text x="369.8" y="98.5" font-size="10.7" text-anchor="middle" stroke-width="0.15">QSO</text>
</g>
<rect x="292.6" y="149.5" width="8.4" height="7.6" fill="#fff" fill-opacity="0.9" stroke="#707070" stroke-width="0.7"/>
<ellipse cx="296.8" cy="153.3" rx="3.2" ry="2.8" transform="rotate(0 296.8 153.3)" fill="#a0a0a0" stroke="#505050" stroke-width="0.8"/>
<rect x="290.9" y="0.1" width="158.2" height="158.2" fill="none" stroke="#8a8a8a" stroke-width="0.8"/>
<path d="M439.00 0.1v2.0M439.00 158.29999999999998v-2.0M290.9 148.20h2.0M449.09999999999997 148.20h-2.0M429.10 0.1v2.0M429.10 158.29999999999998v-2.0M290.9 138.40h2.0M449.09999999999997 138.40h-2.0M419.20 0.1v5.2M419.20 158.29999999999998v-5.2M290.9 128.60h5.2M449.09999999999997 128.60h-5.2M409.30 0.1v2.0M409.30 158.29999999999998v-2.0M290.9 118.80h2.0M449.09999999999997 118.80h-2.0M399.40 0.1v2.0M399.40 158.29999999999998v-2.0M290.9 109.00h2.0M449.09999999999997 109.00h-2.0M389.50 0.1v2.0M389.50 158.29999999999998v-2.0M290.9 99.20h2.0M449.09999999999997 99.20h-2.0M379.60 0.1v2.0M379.60 158.29999999999998v-2.0M290.9 89.40h2.0M449.09999999999997 89.40h-2.0M369.70 0.1v5.2M369.70 158.29999999999998v-5.2M290.9 79.60h5.2M449.09999999999997 79.60h-5.2M359.80 0.1v2.0M359.80 158.29999999999998v-2.0M290.9 69.80h2.0M449.09999999999997 69.80h-2.0M349.90 0.1v2.0M349.90 158.29999999999998v-2.0M290.9 60.00h2.0M449.09999999999997 60.00h-2.0M340.00 0.1v2.0M340.00 158.29999999999998v-2.0M290.9 50.20h2.0M449.09999999999997 50.20h-2.0M330.10 0.1v2.0M330.10 158.29999999999998v-2.0M290.9 40.40h2.0M449.09999999999997 40.40h-2.0M320.20 0.1v5.2M320.20 158.29999999999998v-5.2M290.9 30.60h5.2M449.09999999999997 30.60h-5.2M310.30 0.1v2.0M310.30 158.29999999999998v-2.0M290.9 20.80h2.0M449.09999999999997 20.80h-2.0M300.40 0.1v2.0M300.40 158.29999999999998v-2.0M290.9 11.00h2.0M449.09999999999997 11.00h-2.0M290.9 1.20h2.0M449.09999999999997 1.20h-2.0" stroke="#000" stroke-width="1.35" fill="none"/>
<text x="320.2" y="170.2" font-size="12.8" text-anchor="middle">10</text>
<text x="288.8" y="35.2" font-size="12.8" text-anchor="end">10</text>
<text x="369.7" y="170.2" font-size="12.8" text-anchor="middle">0</text>
<text x="288.8" y="84.2" font-size="12.8" text-anchor="end">0</text>
<text x="419.2" y="170.2" font-size="12.8" text-anchor="middle">-10</text>
<text x="288.8" y="133.2" font-size="12.8" text-anchor="end">-10</text>
<text y="182.8" font-size="12.8" style="font-kerning:none"><tspan x="344.8" font-size="11.9">Δ</tspan><tspan x="357.5">R</tspan><tspan x="366.7">A (</tspan><tspan x="390.3">)</tspan></text>
<text x="385.3" y="187.2" font-size="18" textLength="3.9" lengthAdjust="spacingAndGlyphs" stroke-width="0.1">′′</text>
<g transform="translate(275.5 79.4) rotate(-90)"><text y="0" font-size="12.8" style="font-kerning:none"><tspan x="-28.7" font-size="11.9">Δ</tspan><tspan x="-16.4">Dec (</tspan><tspan x="23.8">)</tspan></text><text x="18.8" y="4.4" font-size="18" textLength="3.9" lengthAdjust="spacingAndGlyphs" stroke-width="0.1">′′</text></g>
<rect x="453.6" y="0.1" width="11" height="158.2" fill="url(#cb2)" stroke="#8a8a8a" stroke-width="0.6"/>
<text x="466.1" y="143.2" font-size="10.2" stroke-width="0.28">-0.02</text>
<text x="466.1" y="119.9" font-size="10.2" stroke-width="0.28">0.00</text>
<text x="466.1" y="96.6" font-size="10.2" stroke-width="0.28">0.02</text>
<text x="466.1" y="73.3" font-size="10.2" stroke-width="0.28">0.04</text>
<text x="466.1" y="50.0" font-size="10.2" stroke-width="0.28">0.06</text>
<text x="466.1" y="26.7" font-size="10.2" stroke-width="0.28">0.08</text>
<path d="M464.6 156.98h-1.8M464.6 151.15h-1.8M464.6 145.32h-1.8M464.6 139.50h-3.6M464.6 133.68h-1.8M464.6 127.85h-1.8M464.6 122.03h-1.8M464.6 116.20h-3.6M464.6 110.38h-1.8M464.6 104.55h-1.8M464.6 98.72h-1.8M464.6 92.90h-3.6M464.6 87.08h-1.8M464.6 81.25h-1.8M464.6 75.42h-1.8M464.6 69.60h-3.6M464.6 63.77h-1.8M464.6 57.95h-1.8M464.6 52.12h-1.8M464.6 46.30h-3.6M464.6 40.47h-1.8M464.6 34.65h-1.8M464.6 28.83h-1.8M464.6 23.00h-3.6M464.6 17.17h-1.8M464.6 11.35h-1.8M464.6 5.53h-1.8" stroke="#000" stroke-width="1" fill="none"/>
<text transform="translate(497.5 80.4) rotate(-90)" font-size="10.5" text-anchor="middle" stroke-width="0.25">[mJy/beam]</text>
<rect x="551.3" y="0.1" width="158.2" height="158.2" fill="#9acbe2" filter="url(#nz3)"/>
<g clip-path="url(#cl3)">
<g filter="url(#rag)"><ellipse cx="581.2" cy="45.6" rx="1.2" ry="2.5" transform="rotate(0 581.2 45.6)" fill="#4377bd" fill-opacity="0.45" stroke="#9c1f3a" stroke-width="0.6"/><ellipse cx="596.2" cy="57.3" rx="2.2" ry="2.2" transform="rotate(0 596.2 57.3)" fill="#4377bd" fill-opacity="0.85" stroke="#9c1f3a" stroke-width="0.6" stroke-dasharray="1.7 0.6"/><ellipse cx="644.4" cy="53.6" rx="2.4" ry="1.7" transform="rotate(0 644.4 53.6)" fill="#4377bd" fill-opacity="0.45" stroke="#9c1f3a" stroke-width="0.6"/><ellipse cx="663.1" cy="19.6" rx="1.3" ry="1.3" transform="rotate(0 663.1 19.6)" fill="#4377bd" fill-opacity="0.45" stroke="#9c1f3a" stroke-width="0.6"/><polygon points="682.8,17.4 685.9,22.8 679.7,22.8" fill="#4377bd" fill-opacity="0.9" stroke="#9c1f3a" stroke-width="0.7" stroke-linejoin="round"/><ellipse cx="596.2" cy="59.8" rx="2.2" ry="3.8" transform="rotate(-15 596.2 59.8)" fill="#4377bd" fill-opacity="0.85" stroke="#9c1f3a" stroke-width="0.6" stroke-dasharray="1.7 0.6"/><ellipse cx="577.7" cy="99.6" rx="2.4" ry="2.9" transform="rotate(0 577.7 99.6)" fill="#4377bd" fill-opacity="0.85" stroke="#9c1f3a" stroke-width="0.6" stroke-dasharray="1.7 0.6"/><ellipse cx="577" cy="107.6" rx="1.2" ry="1.9" transform="rotate(0 577 107.6)" fill="#4377bd" fill-opacity="0.45" stroke="#9c1f3a" stroke-width="0.6"/><ellipse cx="664.3" cy="63.2" rx="1.2" ry="3" transform="rotate(25 664.3 63.2)" fill="#4377bd" fill-opacity="0.45" stroke="#9c1f3a" stroke-width="0.6"/><ellipse cx="651.8" cy="101.5" rx="2.4" ry="4.4" transform="rotate(5 651.8 101.5)" fill="#4377bd" fill-opacity="0.85" stroke="#9c1f3a" stroke-width="0.6" stroke-dasharray="1.7 0.6"/><ellipse cx="662.6" cy="104.9" rx="2.7" ry="2.7" transform="rotate(0 662.6 104.9)" fill="#4377bd" fill-opacity="0.85" stroke="#9c1f3a" stroke-width="0.6" stroke-dasharray="1.7 0.6"/><ellipse cx="667.6" cy="109.5" rx="1.8" ry="3.2" transform="rotate(0 667.6 109.5)" fill="#4377bd" fill-opacity="0.85" stroke="#9c1f3a" stroke-width="0.6" stroke-dasharray="1.7 0.6"/><circle cx="653.2" cy="87" r="0.8" fill="#a8283f"/><ellipse cx="631.6" cy="106.8" rx="1.4" ry="1.4" transform="rotate(0 631.6 106.8)" fill="#4377bd" fill-opacity="0.45" stroke="#9c1f3a" stroke-width="0.6"/><ellipse cx="604.6" cy="52.3" rx="1.5" ry="1.5" transform="rotate(0 604.6 52.3)" fill="#4377bd" fill-opacity="0.45" stroke="#9c1f3a" stroke-width="0.6"/><ellipse cx="685" cy="89.2" rx="2.5" ry="2.5" transform="rotate(0 685 89.2)" fill="#4377bd" fill-opacity="0.85" stroke="#9c1f3a" stroke-width="0.6" stroke-dasharray="1.7 0.6"/><ellipse cx="697" cy="80.5" rx="0.9" ry="1.6" transform="rotate(0 697 80.5)" fill="#4377bd" fill-opacity="0.45" stroke="#9c1f3a" stroke-width="0.6"/><ellipse cx="646.5" cy="110.2" rx="1.4" ry="2.4" transform="rotate(0 646.5 110.2)" fill="#4377bd" fill-opacity="0.45" stroke="#9c1f3a" stroke-width="0.6"/><ellipse cx="578.2" cy="101.5" rx="1.8" ry="2.5" transform="rotate(0 578.2 101.5)" fill="#4377bd" fill-opacity="0.85" stroke="#9c1f3a" stroke-width="0.6" stroke-dasharray="1.7 0.6"/><ellipse cx="569.7" cy="116.2" rx="2.3" ry="2.3" transform="rotate(0 569.7 116.2)" fill="#4377bd" fill-opacity="0.85" stroke="#9c1f3a" stroke-width="0.6" stroke-dasharray="1.7 0.6"/><ellipse cx="597.8" cy="123.1" rx="2" ry="2" transform="rotate(0 597.8 123.1)" fill="#4377bd" fill-opacity="0.85" stroke="#9c1f3a" stroke-width="0.6" stroke-dasharray="1.7 0.6"/><ellipse cx="605.8" cy="126.5" rx="3.6" ry="1.8" transform="rotate(-15 605.8 126.5)" fill="#4377bd" fill-opacity="0.85" stroke="#9c1f3a" stroke-width="0.6" stroke-dasharray="1.7 0.6"/><ellipse cx="613.2" cy="131.6" rx="2.4" ry="3.8" transform="rotate(10 613.2 131.6)" fill="#4377bd" fill-opacity="0.85" stroke="#9c1f3a" stroke-width="0.6" stroke-dasharray="1.7 0.6"/><ellipse cx="625.8" cy="117" rx="1.8" ry="1.8" transform="rotate(0 625.8 117)" fill="#4377bd" fill-opacity="0.85" stroke="#9c1f3a" stroke-width="0.6" stroke-dasharray="1.7 0.6"/><ellipse cx="608.6" cy="155.2" rx="1.8" ry="1.8" transform="rotate(0 608.6 155.2)" fill="#4377bd" fill-opacity="0.85" stroke="#9c1f3a" stroke-width="0.6" stroke-dasharray="1.7 0.6"/><ellipse cx="631.5" cy="120.8" rx="1.8" ry="3" transform="rotate(0 631.5 120.8)" fill="#4377bd" fill-opacity="0.85" stroke="#9c1f3a" stroke-width="0.6" stroke-dasharray="1.7 0.6"/><ellipse cx="662.4" cy="125.4" rx="1.5" ry="1.5" transform="rotate(0 662.4 125.4)" fill="#4377bd" fill-opacity="0.45" stroke="#9c1f3a" stroke-width="0.6"/><ellipse cx="707" cy="140.8" rx="1.5" ry="3" transform="rotate(0 707 140.8)" fill="#4377bd" fill-opacity="0.45" stroke="#9c1f3a" stroke-width="0.6"/><ellipse cx="670.8" cy="155.2" rx="1.6" ry="1.6" transform="rotate(0 670.8 155.2)" fill="#4377bd" fill-opacity="0.45" stroke="#9c1f3a" stroke-width="0.6"/><ellipse cx="692.4" cy="155.5" rx="1.4" ry="2" transform="rotate(0 692.4 155.5)" fill="#4377bd" fill-opacity="0.45" stroke="#9c1f3a" stroke-width="0.6"/><circle cx="562" cy="14.6" r="0.75" fill="#a8283f"/><circle cx="582.4" cy="0.8" r="0.75" fill="#a8283f"/><circle cx="564.6" cy="58.6" r="0.75" fill="#a8283f"/><circle cx="662" cy="12" r="0.75" fill="#a8283f"/><circle cx="599.8" cy="78" r="0.75" fill="#a8283f"/><circle cx="594.7" cy="96.2" r="0.75" fill="#a8283f"/><circle cx="696.6" cy="71.9" r="0.75" fill="#a8283f"/><circle cx="680" cy="86.9" r="0.75" fill="#a8283f"/><circle cx="586.2" cy="115" r="0.75" fill="#a8283f"/><circle cx="577.4" cy="140.4" r="0.75" fill="#a8283f"/><circle cx="627.5" cy="128.2" r="0.75" fill="#a8283f"/><circle cx="681.6" cy="118.8" r="0.75" fill="#a8283f"/><circle cx="670.4" cy="128" r="0.75" fill="#a8283f"/><circle cx="647" cy="115.4" r="0.75" fill="#a8283f"/><circle cx="586.2" cy="127" r="2" fill="#fff7c0"/><circle cx="586.2" cy="127" r="0.9" fill="#d73027"/><circle cx="702.7" cy="113.6" r="1" fill="#f0703c"/><ellipse cx="557.7" cy="68.2" rx="1.6" ry="2.7" transform="rotate(-10 557.7 68.2)" fill="#fdd49a" stroke="#e6622f" stroke-width="0.9"/><ellipse cx="708.9" cy="42.4" rx="1.5" ry="1.5" transform="rotate(0 708.9 42.4)" fill="#f98e52" stroke="#e2592f" stroke-width="0.9"/><ellipse cx="560.5" cy="134.2" rx="1.2" ry="2.9" transform="rotate(0 560.5 134.2)" fill="#fff2b0" stroke="#e6622f" stroke-width="0.9"/><ellipse cx="597" cy="149" rx="1.1" ry="2.2" transform="rotate(30 597 149)" fill="#fdbb6e" stroke="#e6622f" stroke-width="0.9"/><ellipse cx="641.6" cy="132.4" rx="2" ry="2.7" transform="rotate(30 641.6 132.4)" fill="#fff5c5" stroke="#d73027" stroke-width="0.9"/><ellipse cx="702.4" cy="114.3" rx="1.1" ry="1.1" transform="rotate(0 702.4 114.3)" fill="#f98e52" stroke="#e2592f" stroke-width="0.9"/><ellipse cx="708.6" cy="116.2" rx="1.7" ry="1.7" transform="rotate(0 708.6 116.2)" fill="#fee08b" stroke="#f08a4a" stroke-width="0.9"/></g><ellipse cx="681.8" cy="53.5" rx="3" ry="3" transform="rotate(0 681.8 53.5)" fill="#feea9c" stroke="#ea6a35" stroke-width="0.9"/><circle cx="682" cy="54" r="1.3" fill="none" stroke="#f08a4a" stroke-width="0.8"/><ellipse cx="645.9" cy="79.3" rx="1.8" ry="2" transform="rotate(0 645.9 79.3)" fill="#f68a55" stroke="#ee7a40" stroke-width="0.9"/><ellipse cx="629.9" cy="78.8" rx="9.5" ry="9.1" transform="rotate(0 629.9 78.8)" fill="#d73027"/><ellipse cx="637.8" cy="79.2" rx="6.1" ry="6.7" transform="rotate(0 637.8 79.2)" fill="#d73027"/><ellipse cx="626.5" cy="76" rx="5.7" ry="5.7" transform="rotate(0 626.5 76)" fill="#d73027"/><ellipse cx="629.9" cy="78.8" rx="8.6" ry="8.2" transform="rotate(0 629.9 78.8)" fill="#f88c51"/><ellipse cx="637.8" cy="79.2" rx="5.2" ry="5.800000000000001" transform="rotate(0 637.8 79.2)" fill="#f88c51"/><ellipse cx="626.5" cy="76" rx="4.800000000000001" ry="4.800000000000001" transform="rotate(0 626.5 76)" fill="#f88c51"/><ellipse cx="629.9" cy="78.8" rx="7.9" ry="7.5" transform="rotate(0 629.9 78.8)" fill="#fee08b"/><ellipse cx="637.8" cy="79.2" rx="4.5" ry="5.1000000000000005" transform="rotate(0 637.8 79.2)" fill="#fee08b"/><ellipse cx="626.5" cy="76" rx="4.1000000000000005" ry="4.1000000000000005" transform="rotate(0 626.5 76)" fill="#fee08b"/><ellipse cx="629.9" cy="78.8" rx="7.0" ry="6.6" transform="rotate(0 629.9 78.8)" fill="#a90f28"/><ellipse cx="637.8" cy="79.2" rx="3.6" ry="4.2" transform="rotate(0 637.8 79.2)" fill="#a90f28"/><ellipse cx="626.5" cy="76" rx="3.2" ry="3.2" transform="rotate(0 626.5 76)" fill="#a90f28"/><ellipse cx="637.4" cy="79.2" rx="3" ry="3.6" fill="none" stroke="#fdc070" stroke-width="0.8"/>
<circle cx="630.4" cy="79.1" r="74.9" fill="none" stroke="#000" stroke-width="1.55" stroke-dasharray="5.5 2.2"/>
<rect x="582.5" y="28.2" width="96.4" height="23.9" fill="#fff" fill-opacity="0.82" stroke="#6a6a6a" stroke-width="0.75"/><text x="630.7" y="37.8" font-size="10.7" text-anchor="middle" stroke-width="0.15">QSO J0100+2802</text><text x="630.7" y="49.3" font-size="10.7" text-anchor="middle" stroke-width="0.15">259.9GHz</text><rect x="676.3" y="59.3" width="15.4" height="11.6" fill="#fff" fill-opacity="0.82" stroke="#6a6a6a" stroke-width="0.75"/><text x="684.0" y="68.2" font-size="10.7" text-anchor="middle" stroke-width="0.15">C2</text><rect x="649.2" y="72.9" width="15.5" height="11.9" fill="#fff" fill-opacity="0.82" stroke="#6a6a6a" stroke-width="0.75"/><text x="657.0" y="82.0" font-size="10.7" text-anchor="middle" stroke-width="0.15">C1</text><rect x="617.8" y="90.9" width="25.1" height="11.4" fill="#fff" fill-opacity="0.82" stroke="#6a6a6a" stroke-width="0.75"/><text x="630.3" y="99.7" font-size="10.7" text-anchor="middle" stroke-width="0.15">QSO</text>
</g>
<rect x="553.1" y="147.4" width="7.8" height="9" fill="#fff" fill-opacity="0.9" stroke="#707070" stroke-width="0.7"/>
<ellipse cx="557" cy="151.9" rx="2.8" ry="3.9" transform="rotate(0 557 151.9)" fill="#a0a0a0" stroke="#505050" stroke-width="0.8"/>
<rect x="551.3" y="0.1" width="158.2" height="158.2" fill="none" stroke="#8a8a8a" stroke-width="0.8"/>
<path d="M702.20 0.1v2.0M702.20 158.29999999999998v-2.0M551.3 151.60h2.0M709.5 151.60h-2.0M693.20 0.1v2.0M693.20 158.29999999999998v-2.0M551.3 142.60h2.0M709.5 142.60h-2.0M684.20 0.1v2.0M684.20 158.29999999999998v-2.0M551.3 133.60h2.0M709.5 133.60h-2.0M675.20 0.1v5.2M675.20 158.29999999999998v-5.2M551.3 124.60h5.2M709.5 124.60h-5.2M666.20 0.1v2.0M666.20 158.29999999999998v-2.0M551.3 115.60h2.0M709.5 115.60h-2.0M657.20 0.1v2.0M657.20 158.29999999999998v-2.0M551.3 106.60h2.0M709.5 106.60h-2.0M648.20 0.1v2.0M648.20 158.29999999999998v-2.0M551.3 97.60h2.0M709.5 97.60h-2.0M639.20 0.1v2.0M639.20 158.29999999999998v-2.0M551.3 88.60h2.0M709.5 88.60h-2.0M630.20 0.1v5.2M630.20 158.29999999999998v-5.2M551.3 79.60h5.2M709.5 79.60h-5.2M621.20 0.1v2.0M621.20 158.29999999999998v-2.0M551.3 70.60h2.0M709.5 70.60h-2.0M612.20 0.1v2.0M612.20 158.29999999999998v-2.0M551.3 61.60h2.0M709.5 61.60h-2.0M603.20 0.1v2.0M603.20 158.29999999999998v-2.0M551.3 52.60h2.0M709.5 52.60h-2.0M594.20 0.1v2.0M594.20 158.29999999999998v-2.0M551.3 43.60h2.0M709.5 43.60h-2.0M585.20 0.1v5.2M585.20 158.29999999999998v-5.2M551.3 34.60h5.2M709.5 34.60h-5.2M576.20 0.1v2.0M576.20 158.29999999999998v-2.0M551.3 25.60h2.0M709.5 25.60h-2.0M567.20 0.1v2.0M567.20 158.29999999999998v-2.0M551.3 16.60h2.0M709.5 16.60h-2.0M558.20 0.1v2.0M558.20 158.29999999999998v-2.0M551.3 7.60h2.0M709.5 7.60h-2.0" stroke="#000" stroke-width="1.35" fill="none"/>
<text x="585.2" y="170.2" font-size="12.8" text-anchor="middle">10</text>
<text x="549.2" y="39.2" font-size="12.8" text-anchor="end">10</text>
<text x="630.2" y="170.2" font-size="12.8" text-anchor="middle">0</text>
<text x="549.2" y="84.2" font-size="12.8" text-anchor="end">0</text>
<text x="675.2" y="170.2" font-size="12.8" text-anchor="middle">-10</text>
<text x="549.2" y="129.2" font-size="12.8" text-anchor="end">-10</text>
<text y="182.8" font-size="12.8" style="font-kerning:none"><tspan x="605.2" font-size="11.9">Δ</tspan><tspan x="617.9">R</tspan><tspan x="627.1">A (</tspan><tspan x="650.7">)</tspan></text>
<text x="645.7" y="187.2" font-size="18" textLength="3.9" lengthAdjust="spacingAndGlyphs" stroke-width="0.1">′′</text>
<g transform="translate(535.9 79.4) rotate(-90)"><text y="0" font-size="12.8" style="font-kerning:none"><tspan x="-28.7" font-size="11.9">Δ</tspan><tspan x="-16.4">Dec (</tspan><tspan x="23.8">)</tspan></text><text x="18.8" y="4.4" font-size="18" textLength="3.9" lengthAdjust="spacingAndGlyphs" stroke-width="0.1">′′</text></g>
<rect x="714.2" y="0.1" width="11" height="158.2" fill="url(#cb3)" stroke="#8a8a8a" stroke-width="0.6"/>
<text x="726.7" y="149.1" font-size="10.2" stroke-width="0.28">-0.05</text>
<text x="726.7" y="119.4" font-size="10.2" stroke-width="0.28">0.00</text>
<text x="726.7" y="89.7" font-size="10.2" stroke-width="0.28">0.05</text>
<text x="726.7" y="60.0" font-size="10.2" stroke-width="0.28">0.10</text>
<text x="726.7" y="30.3" font-size="10.2" stroke-width="0.28">0.15</text>
<path d="M725.2 157.28h-1.8M725.2 151.34h-1.8M725.2 145.40h-3.6M725.2 139.46h-1.8M725.2 133.52h-1.8M725.2 127.58h-1.8M725.2 121.64h-1.8M725.2 115.70h-3.6M725.2 109.76h-1.8M725.2 103.82h-1.8M725.2 97.88h-1.8M725.2 91.94h-1.8M725.2 86.00h-3.6M725.2 80.06h-1.8M725.2 74.12h-1.8M725.2 68.18h-1.8M725.2 62.24h-1.8M725.2 56.30h-3.6M725.2 50.36h-1.8M725.2 44.42h-1.8M725.2 38.48h-1.8M725.2 32.54h-1.8M725.2 26.60h-3.6M725.2 20.66h-1.8M725.2 14.72h-1.8M725.2 8.78h-1.8M725.2 2.84h-1.8" stroke="#000" stroke-width="1" fill="none"/>
<text transform="translate(758.1 80.4) rotate(-90)" font-size="10.5" text-anchor="middle" stroke-width="0.25">[mJy/beam]</text>
<rect x="160.5" y="200.7" width="158.2" height="158.3" fill="#99cbe1" filter="url(#nz4)"/>
<g clip-path="url(#cl4)">
<g filter="url(#rag)"><path d="M318.7 359h-3.4l3.4-3.6z" fill="#fff"/><ellipse cx="180.3" cy="204.9" rx="2.2" ry="1.3" transform="rotate(-10 180.3 204.9)" fill="#4377bd" fill-opacity="0.45" stroke="#9c1f3a" stroke-width="0.6"/><ellipse cx="167.2" cy="218.5" rx="1.6" ry="1.6" transform="rotate(0 167.2 218.5)" fill="#4377bd" fill-opacity="0.45" stroke="#9c1f3a" stroke-width="0.6"/><ellipse cx="189.3" cy="227.7" rx="1.6" ry="1.6" transform="rotate(0 189.3 227.7)" fill="#4377bd" fill-opacity="0.45" stroke="#9c1f3a" stroke-width="0.6"/><ellipse cx="226.3" cy="254.7" rx="1.5" ry="1.5" transform="rotate(0 226.3 254.7)" fill="#4377bd" fill-opacity="0.45" stroke="#9c1f3a" stroke-width="0.6"/><ellipse cx="208" cy="253.2" rx="1.3" ry="1.3" transform="rotate(0 208 253.2)" fill="#4377bd" fill-opacity="0.45" stroke="#9c1f3a" stroke-width="0.6"/><circle cx="198.5" cy="258.6" r="0.8" fill="#a8283f"/><circle cx="209.3" cy="258.2" r="0.8" fill="#a8283f"/><ellipse cx="230.1" cy="257.8" rx="1.1" ry="1.1" transform="rotate(0 230.1 257.8)" fill="#4377bd" fill-opacity="0.45" stroke="#9c1f3a" stroke-width="0.6"/><ellipse cx="277.9" cy="243" rx="1.5" ry="2.7" transform="rotate(0 277.9 243)" fill="#4377bd" fill-opacity="0.45" stroke="#9c1f3a" stroke-width="0.6"/><ellipse cx="277.2" cy="235.8" rx="1.1" ry="1.1" transform="rotate(0 277.2 235.8)" fill="#4377bd" fill-opacity="0.45" stroke="#9c1f3a" stroke-width="0.6"/><ellipse cx="254.9" cy="256.8" rx="2.2" ry="2.6" transform="rotate(0 254.9 256.8)" fill="#4377bd" fill-opacity="0.85" stroke="#9c1f3a" stroke-width="0.6" stroke-dasharray="1.7 0.6"/><ellipse cx="261.4" cy="258.3" rx="1.8" ry="1.8" transform="rotate(0 261.4 258.3)" fill="#4377bd" fill-opacity="0.85" stroke="#9c1f3a" stroke-width="0.6" stroke-dasharray="1.7 0.6"/><ellipse cx="287.8" cy="214.6" rx="1.8" ry="1.4" transform="rotate(-20 287.8 214.6)" fill="#4377bd" fill-opacity="0.45" stroke="#9c1f3a" stroke-width="0.6"/><ellipse cx="297.9" cy="253.3" rx="3.2" ry="3.2" transform="rotate(-20 297.9 253.3)" fill="#4377bd" fill-opacity="0.85" stroke="#9c1f3a" stroke-width="0.6" stroke-dasharray="1.7 0.6"/><ellipse cx="200.1" cy="262.6" rx="4.5" ry="3.2" transform="rotate(10 200.1 262.6)" fill="#4377bd" fill-opacity="0.85" stroke="#9c1f3a" stroke-width="0.6" stroke-dasharray="1.7 0.6"/><ellipse cx="208.5" cy="260.8" rx="1.8" ry="3" transform="rotate(20 208.5 260.8)" fill="#4377bd" fill-opacity="0.85" stroke="#9c1f3a" stroke-width="0.6" stroke-dasharray="1.7 0.6"/><ellipse cx="189.6" cy="262.6" rx="2.2" ry="1.7" transform="rotate(0 189.6 262.6)" fill="#4377bd" fill-opacity="0.45" stroke="#9c1f3a" stroke-width="0.6"/><ellipse cx="226.6" cy="267" rx="1.5" ry="1.5" transform="rotate(0 226.6 267)" fill="#4377bd" fill-opacity="0.45" stroke="#9c1f3a" stroke-width="0.6"/><ellipse cx="237.8" cy="261.1" rx="1.8" ry="1.8" transform="rotate(0 237.8 261.1)" fill="#4377bd" fill-opacity="0.85" stroke="#9c1f3a" stroke-width="0.6" stroke-dasharray="1.7 0.6"/><ellipse cx="212.1" cy="295.1" rx="1.5" ry="1.5" transform="rotate(0 212.1 295.1)" fill="#4377bd" fill-opacity="0.45" stroke="#9c1f3a" stroke-width="0.6"/><ellipse cx="200.8" cy="308.2" rx="1.5" ry="1.5" transform="rotate(0 200.8 308.2)" fill="#4377bd" fill-opacity="0.45" stroke="#9c1f3a" stroke-width="0.6"/><ellipse cx="236.8" cy="308.4" rx="2" ry="2" transform="rotate(0 236.8 308.4)" fill="#4377bd" fill-opacity="0.85" stroke="#9c1f3a" stroke-width="0.6" stroke-dasharray="1.7 0.6"/><ellipse cx="239.7" cy="261.1" rx="2.5" ry="2.5" transform="rotate(0 239.7 261.1)" fill="#4377bd" fill-opacity="0.85" stroke="#9c1f3a" stroke-width="0.6" stroke-dasharray="1.7 0.6"/><circle cx="248" cy="261.1" r="0.8" fill="#a8283f"/><ellipse cx="270.5" cy="276.2" rx="1.6" ry="4" transform="rotate(-10 270.5 276.2)" fill="#4377bd" fill-opacity="0.45" stroke="#9c1f3a" stroke-width="0.6"/><ellipse cx="285" cy="287" rx="1.5" ry="1.5" transform="rotate(0 285 287)" fill="#4377bd" fill-opacity="0.45" stroke="#9c1f3a" stroke-width="0.6"/><ellipse cx="211.8" cy="295" rx="1.5" ry="1.5" transform="rotate(0 211.8 295)" fill="#4377bd" fill-opacity="0.45" stroke="#9c1f3a" stroke-width="0.6"/><ellipse cx="308.1" cy="287.4" rx="1.2" ry="1.2" transform="rotate(0 308.1 287.4)" fill="#4377bd" fill-opacity="0.45" stroke="#9c1f3a" stroke-width="0.6"/><circle cx="310.9" cy="300.8" r="0.8" fill="#a8283f"/><ellipse cx="198.5" cy="312" rx="2.3" ry="4" transform="rotate(30 198.5 312)" fill="#4377bd" fill-opacity="0.85" stroke="#9c1f3a" stroke-width="0.6" stroke-dasharray="1.7 0.6"/><ellipse cx="193.6" cy="320.3" rx="4" ry="1.9" transform="rotate(-30 193.6 320.3)" fill="#4377bd" fill-opacity="0.85" stroke="#9c1f3a" stroke-width="0.6" stroke-dasharray="1.7 0.6"/><ellipse cx="193.1" cy="330.5" rx="1.9" ry="3.5" transform="rotate(10 193.1 330.5)" fill="#4377bd" fill-opacity="0.85" stroke="#9c1f3a" stroke-width="0.6" stroke-dasharray="1.7 0.6"/><ellipse cx="207" cy="325.4" rx="2.5" ry="1.4" transform="rotate(0 207 325.4)" fill="#4377bd" fill-opacity="0.45" stroke="#9c1f3a" stroke-width="0.6"/><ellipse cx="219" cy="322.8" rx="1.4" ry="2.7" transform="rotate(20 219 322.8)" fill="#4377bd" fill-opacity="0.45" stroke="#9c1f3a" stroke-width="0.6"/><ellipse cx="232.4" cy="316.2" rx="2.4" ry="2.4" transform="rotate(0 232.4 316.2)" fill="#4377bd" fill-opacity="0.85" stroke="#9c1f3a" stroke-width="0.6" stroke-dasharray="1.7 0.6"/><ellipse cx="236.7" cy="309.6" rx="1.7" ry="2.8" transform="rotate(0 236.7 309.6)" fill="#4377bd" fill-opacity="0.45" stroke="#9c1f3a" stroke-width="0.6"/><ellipse cx="237.8" cy="324.7" rx="2.4" ry="3.4" transform="rotate(0 237.8 324.7)" fill="#4377bd" fill-opacity="0.85" stroke="#9c1f3a" stroke-width="0.6" stroke-dasharray="1.7 0.6"/><ellipse cx="235.5" cy="342.4" rx="1.5" ry="2.2" transform="rotate(0 235.5 342.4)" fill="#4377bd" fill-opacity="0.45" stroke="#9c1f3a" stroke-width="0.6"/><ellipse cx="171.6" cy="350" rx="1.2" ry="2" transform="rotate(20 171.6 350)" fill="#4377bd" fill-opacity="0.45" stroke="#9c1f3a" stroke-width="0.6"/><ellipse cx="246" cy="313.9" rx="5.4" ry="2.8" transform="rotate(10 246 313.9)" fill="#4377bd" fill-opacity="0.85" stroke="#9c1f3a" stroke-width="0.6" stroke-dasharray="1.7 0.6"/><ellipse cx="262.8" cy="314.6" rx="2.5" ry="2.8" transform="rotate(0 262.8 314.6)" fill="#4377bd" fill-opacity="0.85" stroke="#9c1f3a" stroke-width="0.6" stroke-dasharray="1.7 0.6"/><ellipse cx="289.6" cy="311.6" rx="1.6" ry="1.6" transform="rotate(0 289.6 311.6)" fill="#4377bd" fill-opacity="0.45" stroke="#9c1f3a" stroke-width="0.6"/><ellipse cx="308.3" cy="320.8" rx="3" ry="2.4" transform="rotate(0 308.3 320.8)" fill="#4377bd" fill-opacity="0.85" stroke="#9c1f3a" stroke-width="0.6" stroke-dasharray="1.7 0.6"/><ellipse cx="265.4" cy="340.8" rx="2.4" ry="4.4" transform="rotate(-10 265.4 340.8)" fill="#4377bd" fill-opacity="0.85" stroke="#9c1f3a" stroke-width="0.6" stroke-dasharray="1.7 0.6"/><ellipse cx="262.3" cy="335.1" rx="1.2" ry="2" transform="rotate(0 262.3 335.1)" fill="#4377bd" fill-opacity="0.45" stroke="#9c1f3a" stroke-width="0.6"/><ellipse cx="240.8" cy="335.4" rx="1.8" ry="3" transform="rotate(0 240.8 335.4)" fill="#4377bd" fill-opacity="0.85" stroke="#9c1f3a" stroke-width="0.6" stroke-dasharray="1.7 0.6"/><ellipse cx="241.2" cy="345.5" rx="1.5" ry="1.5" transform="rotate(0 241.2 345.5)" fill="#4377bd" fill-opacity="0.45" stroke="#9c1f3a" stroke-width="0.6"/><circle cx="215.8" cy="224.7" r="0.75" fill="#a8283f"/><circle cx="237" cy="202.8" r="0.75" fill="#a8283f"/><circle cx="166.9" cy="286.2" r="0.75" fill="#a8283f"/><circle cx="219.8" cy="302.4" r="0.75" fill="#a8283f"/><circle cx="275.3" cy="282.8" r="0.75" fill="#a8283f"/><circle cx="248.8" cy="285.8" r="0.75" fill="#a8283f"/><circle cx="219.2" cy="302.4" r="0.75" fill="#a8283f"/><circle cx="295.8" cy="303.2" r="0.75" fill="#a8283f"/><circle cx="223.6" cy="310.8" r="0.75" fill="#a8283f"/><circle cx="226.3" cy="318.2" r="0.75" fill="#a8283f"/><circle cx="279.3" cy="320.8" r="0.75" fill="#a8283f"/><circle cx="296.2" cy="303.1" r="0.75" fill="#a8283f"/><circle cx="286.2" cy="341.6" r="0.75" fill="#a8283f"/><circle cx="175.1" cy="280.4" r="1.8" fill="#fff7d0"/><circle cx="175.1" cy="280.4" r="0.8" fill="#d73027"/><circle cx="270.8" cy="315.4" r="2" fill="#fffbd0" fill-opacity="0.8"/><ellipse cx="164.4" cy="260.4" rx="2.1" ry="1.4" transform="rotate(0 164.4 260.4)" fill="#fee0a0" stroke="#f08a4a" stroke-width="0.9"/><ellipse cx="316.3" cy="252.3" rx="2" ry="1.1" transform="rotate(-10 316.3 252.3)" fill="#f98e52" stroke="#e2592f" stroke-width="0.9"/><ellipse cx="222" cy="340" rx="2.4" ry="1.7" transform="rotate(0 222 340)" fill="#fff2b0" stroke="#ee7a40" stroke-width="0.9"/><ellipse cx="283.1" cy="326.5" rx="1.7" ry="1.7" transform="rotate(0 283.1 326.5)" fill="#fff0c0" stroke="#d73027" stroke-width="0.9"/><ellipse cx="245.4" cy="353.9" rx="1.8" ry="1.8" transform="rotate(0 245.4 353.9)" fill="#f0703c" stroke="#d73027" stroke-width="0.9"/><ellipse cx="316" cy="305.6" rx="3.8" ry="3.2" transform="rotate(0 316 305.6)" fill="#fee08b" stroke="#d73027" stroke-width="0.9"/><ellipse cx="316.4" cy="305.8" rx="2.2" ry="1.7" fill="#c8202c"/></g><path d="M240 272.6 C244.6 272.6 248.2 275.6 249.7 279 C249 282.7 245 286.6 239.7 287.4 C235 287 231.2 283.7 230.9 279.6 C230.9 275.5 235 272.6 240 272.6Z" fill="#a90f28" stroke="#d73027" stroke-width="2.6" stroke-linejoin="round"/><path d="M240 272.6 C244.6 272.6 248.2 275.6 249.7 279 C249 282.7 245 286.6 239.7 287.4 C235 287 231.2 283.7 230.9 279.6 C230.9 275.5 235 272.6 240 272.6Z" fill="#a90f28" stroke="#fed080" stroke-width="0.9" stroke-linejoin="round"/>
<circle cx="239.6" cy="279.7" r="74.9" fill="none" stroke="#000" stroke-width="1.55" stroke-dasharray="5.5 2.2"/>
<rect x="203.6" y="228.6" width="72.7" height="24.0" fill="#fff" fill-opacity="0.82" stroke="#6a6a6a" stroke-width="0.75"/><text x="239.9" y="238.2" font-size="10.7" text-anchor="middle" stroke-width="0.15">PSO J183+05</text><text x="239.9" y="249.8" font-size="10.7" text-anchor="middle" stroke-width="0.15">262.4GHz</text><rect x="227.4" y="290.4" width="24.5" height="11.2" fill="#fff" fill-opacity="0.82" stroke="#6a6a6a" stroke-width="0.75"/><text x="239.7" y="299.1" font-size="10.7" text-anchor="middle" stroke-width="0.15">QSO</text>
</g>
<rect x="162.1" y="349.6" width="8.4" height="7.9" fill="#fff" fill-opacity="0.9" stroke="#707070" stroke-width="0.7"/>
<ellipse cx="166.3" cy="353.4" rx="3.2" ry="2.8" transform="rotate(0 166.3 353.4)" fill="#a0a0a0" stroke="#505050" stroke-width="0.8"/>
<rect x="160.5" y="200.7" width="158.2" height="158.3" fill="none" stroke="#8a8a8a" stroke-width="0.8"/>
<path d="M311.30 200.7v2.0M311.30 359.0v-2.0M160.5 352.78h2.0M318.7 352.78h-2.0M302.30 200.7v2.0M302.30 359.0v-2.0M160.5 343.72h2.0M318.7 343.72h-2.0M293.30 200.7v2.0M293.30 359.0v-2.0M160.5 334.66h2.0M318.7 334.66h-2.0M284.30 200.7v5.2M284.30 359.0v-5.2M160.5 325.60h5.2M318.7 325.60h-5.2M275.30 200.7v2.0M275.30 359.0v-2.0M160.5 316.54h2.0M318.7 316.54h-2.0M266.30 200.7v2.0M266.30 359.0v-2.0M160.5 307.48h2.0M318.7 307.48h-2.0M257.30 200.7v2.0M257.30 359.0v-2.0M160.5 298.42h2.0M318.7 298.42h-2.0M248.30 200.7v2.0M248.30 359.0v-2.0M160.5 289.36h2.0M318.7 289.36h-2.0M239.30 200.7v5.2M239.30 359.0v-5.2M160.5 280.30h5.2M318.7 280.30h-5.2M230.30 200.7v2.0M230.30 359.0v-2.0M160.5 271.24h2.0M318.7 271.24h-2.0M221.30 200.7v2.0M221.30 359.0v-2.0M160.5 262.18h2.0M318.7 262.18h-2.0M212.30 200.7v2.0M212.30 359.0v-2.0M160.5 253.12h2.0M318.7 253.12h-2.0M203.30 200.7v2.0M203.30 359.0v-2.0M160.5 244.06h2.0M318.7 244.06h-2.0M194.30 200.7v5.2M194.30 359.0v-5.2M160.5 235.00h5.2M318.7 235.00h-5.2M185.30 200.7v2.0M185.30 359.0v-2.0M160.5 225.94h2.0M318.7 225.94h-2.0M176.30 200.7v2.0M176.30 359.0v-2.0M160.5 216.88h2.0M318.7 216.88h-2.0M167.30 200.7v2.0M167.30 359.0v-2.0M160.5 207.82h2.0M318.7 207.82h-2.0" stroke="#000" stroke-width="1.35" fill="none"/>
<text x="194.3" y="370.9" font-size="12.8" text-anchor="middle">10</text>
<text x="158.4" y="239.6" font-size="12.8" text-anchor="end">10</text>
<text x="239.3" y="370.9" font-size="12.8" text-anchor="middle">0</text>
<text x="158.4" y="284.9" font-size="12.8" text-anchor="end">0</text>
<text x="284.3" y="370.9" font-size="12.8" text-anchor="middle">-10</text>
<text x="158.4" y="330.2" font-size="12.8" text-anchor="end">-10</text>
<text y="383.5" font-size="12.8" style="font-kerning:none"><tspan x="214.4" font-size="11.9">Δ</tspan><tspan x="227.1">R</tspan><tspan x="236.3">A (</tspan><tspan x="259.9">)</tspan></text>
<text x="254.9" y="387.9" font-size="18" textLength="3.9" lengthAdjust="spacingAndGlyphs" stroke-width="0.1">′′</text>
<g transform="translate(145.1 280.0) rotate(-90)"><text y="0" font-size="12.8" style="font-kerning:none"><tspan x="-28.7" font-size="11.9">Δ</tspan><tspan x="-16.4">Dec (</tspan><tspan x="23.8">)</tspan></text><text x="18.8" y="4.4" font-size="18" textLength="3.9" lengthAdjust="spacingAndGlyphs" stroke-width="0.1">′′</text></g>
<rect x="323.4" y="200.7" width="11" height="158.3" fill="url(#cb4)" stroke="#8a8a8a" stroke-width="0.6"/>
<text x="335.9" y="353.9" font-size="10.2" stroke-width="0.28">-0.05</text>
<text x="335.9" y="320.3" font-size="10.2" stroke-width="0.28">0.00</text>
<text x="335.9" y="286.7" font-size="10.2" stroke-width="0.28">0.05</text>
<text x="335.9" y="253.1" font-size="10.2" stroke-width="0.28">0.10</text>
<text x="335.9" y="219.5" font-size="10.2" stroke-width="0.28">0.15</text>
<path d="M334.4 356.92h-1.8M334.4 350.20h-3.6M334.4 343.48h-1.8M334.4 336.76h-1.8M334.4 330.04h-1.8M334.4 323.32h-1.8M334.4 316.60h-3.6M334.4 309.88h-1.8M334.4 303.16h-1.8M334.4 296.44h-1.8M334.4 289.72h-1.8M334.4 283.00h-3.6M334.4 276.28h-1.8M334.4 269.56h-1.8M334.4 262.84h-1.8M334.4 256.12h-1.8M334.4 249.40h-3.6M334.4 242.68h-1.8M334.4 235.96h-1.8M334.4 229.24h-1.8M334.4 222.52h-1.8M334.4 215.80h-3.6M334.4 209.08h-1.8M334.4 202.36h-1.8" stroke="#000" stroke-width="1" fill="none"/>
<text transform="translate(367.3 281.1) rotate(-90)" font-size="10.5" text-anchor="middle" stroke-width="0.25">[mJy/beam]</text>
<rect x="421.4" y="200.7" width="158.3" height="158.3" fill="#9acbe2" filter="url(#nz5)"/>
<g clip-path="url(#cl5)">
<g filter="url(#rag)"><path d="M421.4 200.7h6l-6 5z" fill="#fff"/><path d="M579.7 359h-3.6l3.6-3.6z" fill="#fff"/><ellipse cx="455.4" cy="233.1" rx="1.4" ry="2" transform="rotate(10 455.4 233.1)" fill="#4377bd" fill-opacity="0.45" stroke="#9c1f3a" stroke-width="0.6"/><ellipse cx="440.3" cy="254.7" rx="1.4" ry="2.2" transform="rotate(20 440.3 254.7)" fill="#4377bd" fill-opacity="0.45" stroke="#9c1f3a" stroke-width="0.6"/><ellipse cx="453.1" cy="254.9" rx="1.3" ry="2.2" transform="rotate(10 453.1 254.9)" fill="#4377bd" fill-opacity="0.45" stroke="#9c1f3a" stroke-width="0.6"/><ellipse cx="464.9" cy="258.6" rx="1.9" ry="1.9" transform="rotate(0 464.9 258.6)" fill="#4377bd" fill-opacity="0.85" stroke="#9c1f3a" stroke-width="0.6" stroke-dasharray="1.7 0.6"/><ellipse cx="460.4" cy="247" rx="1.2" ry="1.2" transform="rotate(0 460.4 247)" fill="#4377bd" fill-opacity="0.45" stroke="#9c1f3a" stroke-width="0.6"/><circle cx="458.2" cy="239.8" r="0.8" fill="#a8283f"/><ellipse cx="426.5" cy="224.3" rx="1.2" ry="1.2" transform="rotate(0 426.5 224.3)" fill="#4377bd" fill-opacity="0.45" stroke="#9c1f3a" stroke-width="0.6"/><ellipse cx="426.5" cy="230.8" rx="1.2" ry="1.2" transform="rotate(0 426.5 230.8)" fill="#4377bd" fill-opacity="0.45" stroke="#9c1f3a" stroke-width="0.6"/><circle cx="431.1" cy="232" r="0.8" fill="#a8283f"/><ellipse cx="499.7" cy="223.6" rx="2" ry="1.2" transform="rotate(0 499.7 223.6)" fill="#4377bd" fill-opacity="0.45" stroke="#9c1f3a" stroke-width="0.6"/><ellipse cx="509" cy="222.5" rx="1.4" ry="1.4" transform="rotate(0 509 222.5)" fill="#4377bd" fill-opacity="0.45" stroke="#9c1f3a" stroke-width="0.6"/><ellipse cx="537.2" cy="222.7" rx="1.5" ry="1.5" transform="rotate(0 537.2 222.7)" fill="#4377bd" fill-opacity="0.45" stroke="#9c1f3a" stroke-width="0.6"/><ellipse cx="519.4" cy="257.8" rx="1.4" ry="1.4" transform="rotate(0 519.4 257.8)" fill="#4377bd" fill-opacity="0.45" stroke="#9c1f3a" stroke-width="0.6"/><ellipse cx="535.4" cy="221.3" rx="3.4" ry="1.7" transform="rotate(0 535.4 221.3)" fill="#4377bd" fill-opacity="0.45" stroke="#9c1f3a" stroke-width="0.6"/><ellipse cx="525.4" cy="215.1" rx="1.2" ry="1.2" transform="rotate(0 525.4 215.1)" fill="#4377bd" fill-opacity="0.45" stroke="#9c1f3a" stroke-width="0.6"/><ellipse cx="516.6" cy="206.5" rx="1.2" ry="1.2" transform="rotate(0 516.6 206.5)" fill="#4377bd" fill-opacity="0.45" stroke="#9c1f3a" stroke-width="0.6"/><ellipse cx="577" cy="254.4" rx="1.5" ry="2" transform="rotate(0 577 254.4)" fill="#4377bd" fill-opacity="0.45" stroke="#9c1f3a" stroke-width="0.6"/><ellipse cx="475.8" cy="260" rx="1.2" ry="1.2" transform="rotate(0 475.8 260)" fill="#4377bd" fill-opacity="0.45" stroke="#9c1f3a" stroke-width="0.6"/><ellipse cx="493.2" cy="260.5" rx="4" ry="1.9" transform="rotate(-5 493.2 260.5)" fill="#4377bd" fill-opacity="0.85" stroke="#9c1f3a" stroke-width="0.6" stroke-dasharray="1.7 0.6"/><ellipse cx="463.9" cy="274.7" rx="1.8" ry="4.4" transform="rotate(35 463.9 274.7)" fill="#4377bd" fill-opacity="0.85" stroke="#9c1f3a" stroke-width="0.6" stroke-dasharray="1.7 0.6"/><ellipse cx="473.5" cy="274.3" rx="1.6" ry="1.6" transform="rotate(0 473.5 274.3)" fill="#4377bd" fill-opacity="0.45" stroke="#9c1f3a" stroke-width="0.6"/><ellipse cx="480.6" cy="279.3" rx="2.2" ry="1.6" transform="rotate(0 480.6 279.3)" fill="#4377bd" fill-opacity="0.45" stroke="#9c1f3a" stroke-width="0.6"/><ellipse cx="477.8" cy="295.3" rx="1.5" ry="2.2" transform="rotate(0 477.8 295.3)" fill="#4377bd" fill-opacity="0.45" stroke="#9c1f3a" stroke-width="0.6"/><ellipse cx="474.3" cy="303.9" rx="2.2" ry="2.2" transform="rotate(0 474.3 303.9)" fill="#4377bd" fill-opacity="0.85" stroke="#9c1f3a" stroke-width="0.6" stroke-dasharray="1.7 0.6"/><ellipse cx="443.1" cy="305.3" rx="1.8" ry="1.3" transform="rotate(0 443.1 305.3)" fill="#4377bd" fill-opacity="0.45" stroke="#9c1f3a" stroke-width="0.6"/><ellipse cx="440" cy="267" rx="1.2" ry="1.2" transform="rotate(0 440 267)" fill="#4377bd" fill-opacity="0.45" stroke="#9c1f3a" stroke-width="0.6"/><circle cx="434.6" cy="262" r="0.8" fill="#a8283f"/><ellipse cx="511.5" cy="267" rx="2.2" ry="2.4" transform="rotate(0 511.5 267)" fill="#4377bd" fill-opacity="0.85" stroke="#9c1f3a" stroke-width="0.6" stroke-dasharray="1.7 0.6"/><ellipse cx="519.6" cy="290.8" rx="2.5" ry="2.5" transform="rotate(0 519.6 290.8)" fill="#4377bd" fill-opacity="0.85" stroke="#9c1f3a" stroke-width="0.6" stroke-dasharray="1.7 0.6"/><ellipse cx="530.9" cy="285.1" rx="2.5" ry="1.7" transform="rotate(-15 530.9 285.1)" fill="#4377bd" fill-opacity="0.45" stroke="#9c1f3a" stroke-width="0.6"/><ellipse cx="538.6" cy="281.3" rx="1.2" ry="1.2" transform="rotate(0 538.6 281.3)" fill="#4377bd" fill-opacity="0.45" stroke="#9c1f3a" stroke-width="0.6"/><ellipse cx="520.8" cy="308.3" rx="1.5" ry="1.5" transform="rotate(0 520.8 308.3)" fill="#4377bd" fill-opacity="0.45" stroke="#9c1f3a" stroke-width="0.6"/><circle cx="539.3" cy="303.9" r="0.8" fill="#a8283f"/><circle cx="548.6" cy="257.7" r="0.8" fill="#a8283f"/><ellipse cx="553.9" cy="283.9" rx="2" ry="1.3" transform="rotate(-20 553.9 283.9)" fill="#4377bd" fill-opacity="0.45" stroke="#9c1f3a" stroke-width="0.6"/><ellipse cx="563.5" cy="282.7" rx="1.6" ry="1.6" transform="rotate(0 563.5 282.7)" fill="#4377bd" fill-opacity="0.45" stroke="#9c1f3a" stroke-width="0.6"/><ellipse cx="556.7" cy="289.3" rx="1.3" ry="1.3" transform="rotate(0 556.7 289.3)" fill="#4377bd" fill-opacity="0.45" stroke="#9c1f3a" stroke-width="0.6"/><ellipse cx="565.8" cy="268.5" rx="1.5" ry="1.5" transform="rotate(0 565.8 268.5)" fill="#4377bd" fill-opacity="0.45" stroke="#9c1f3a" stroke-width="0.6"/><ellipse cx="572.4" cy="299.6" rx="1.9" ry="2.5" transform="rotate(0 572.4 299.6)" fill="#4377bd" fill-opacity="0.85" stroke="#9c1f3a" stroke-width="0.6" stroke-dasharray="1.7 0.6"/><ellipse cx="544.7" cy="308.8" rx="2" ry="2.5" transform="rotate(0 544.7 308.8)" fill="#4377bd" fill-opacity="0.85" stroke="#9c1f3a" stroke-width="0.6" stroke-dasharray="1.7 0.6"/><ellipse cx="481.6" cy="313.1" rx="2.5" ry="1.8" transform="rotate(0 481.6 313.1)" fill="#4377bd" fill-opacity="0.85" stroke="#9c1f3a" stroke-width="0.6" stroke-dasharray="1.7 0.6"/><ellipse cx="490.1" cy="318.2" rx="2.2" ry="2.5" transform="rotate(0 490.1 318.2)" fill="#4377bd" fill-opacity="0.85" stroke="#9c1f3a" stroke-width="0.6" stroke-dasharray="1.7 0.6"/><ellipse cx="467" cy="327.4" rx="1.8" ry="1.8" transform="rotate(0 467 327.4)" fill="#4377bd" fill-opacity="0.85" stroke="#9c1f3a" stroke-width="0.6" stroke-dasharray="1.7 0.6"/><ellipse cx="436.2" cy="314.2" rx="1.5" ry="1.5" transform="rotate(0 436.2 314.2)" fill="#4377bd" fill-opacity="0.45" stroke="#9c1f3a" stroke-width="0.6"/><ellipse cx="484.4" cy="328.5" rx="1" ry="1.5" transform="rotate(0 484.4 328.5)" fill="#4377bd" fill-opacity="0.45" stroke="#9c1f3a" stroke-width="0.6"/><ellipse cx="427.7" cy="349.6" rx="1.5" ry="1.5" transform="rotate(0 427.7 349.6)" fill="#4377bd" fill-opacity="0.45" stroke="#9c1f3a" stroke-width="0.6"/><ellipse cx="432.3" cy="355.5" rx="1.2" ry="1.2" transform="rotate(0 432.3 355.5)" fill="#4377bd" fill-opacity="0.45" stroke="#9c1f3a" stroke-width="0.6"/><ellipse cx="545" cy="310.8" rx="2.6" ry="3.4" transform="rotate(0 545 310.8)" fill="#4377bd" fill-opacity="0.85" stroke="#9c1f3a" stroke-width="0.6" stroke-dasharray="1.7 0.6"/><ellipse cx="503.4" cy="316.2" rx="2.6" ry="2.6" transform="rotate(0 503.4 316.2)" fill="#4377bd" fill-opacity="0.85" stroke="#9c1f3a" stroke-width="0.6" stroke-dasharray="1.7 0.6"/><ellipse cx="533.1" cy="313.1" rx="1.3" ry="1.3" transform="rotate(0 533.1 313.1)" fill="#4377bd" fill-opacity="0.45" stroke="#9c1f3a" stroke-width="0.6"/><ellipse cx="530.5" cy="329" rx="1.7" ry="3" transform="rotate(20 530.5 329)" fill="#4377bd" fill-opacity="0.45" stroke="#9c1f3a" stroke-width="0.6"/><ellipse cx="550.8" cy="347.5" rx="2" ry="2" transform="rotate(0 550.8 347.5)" fill="#4377bd" fill-opacity="0.85" stroke="#9c1f3a" stroke-width="0.6" stroke-dasharray="1.7 0.6"/><ellipse cx="503.1" cy="350.5" rx="1.3" ry="1.3" transform="rotate(0 503.1 350.5)" fill="#4377bd" fill-opacity="0.45" stroke="#9c1f3a" stroke-width="0.6"/><ellipse cx="572.4" cy="300.8" rx="1.8" ry="1.8" transform="rotate(0 572.4 300.8)" fill="#4377bd" fill-opacity="0.85" stroke="#9c1f3a" stroke-width="0.6" stroke-dasharray="1.7 0.6"/><circle cx="567.8" cy="306.9" r="0.8" fill="#a8283f"/><ellipse cx="575.5" cy="352.4" rx="1.2" ry="1.2" transform="rotate(0 575.5 352.4)" fill="#4377bd" fill-opacity="0.45" stroke="#9c1f3a" stroke-width="0.6"/><circle cx="448" cy="209.6" r="0.75" fill="#a8283f"/><circle cx="425.4" cy="212.6" r="0.75" fill="#a8283f"/><circle cx="472.4" cy="227" r="0.75" fill="#a8283f"/><circle cx="498.6" cy="223.9" r="0.75" fill="#a8283f"/><circle cx="539.8" cy="211.6" r="0.75" fill="#a8283f"/><circle cx="566.3" cy="214.3" r="0.75" fill="#a8283f"/><circle cx="552.4" cy="241.9" r="0.75" fill="#a8283f"/><circle cx="535.1" cy="231.6" r="0.75" fill="#a8283f"/><circle cx="559.3" cy="255.5" r="0.75" fill="#a8283f"/><circle cx="527.7" cy="204.3" r="0.75" fill="#a8283f"/><circle cx="442.8" cy="278.5" r="0.75" fill="#a8283f"/><circle cx="448.5" cy="280.4" r="0.75" fill="#a8283f"/><circle cx="424.6" cy="290.8" r="0.75" fill="#a8283f"/><circle cx="481.6" cy="302.9" r="0.75" fill="#a8283f"/><circle cx="475.9" cy="260" r="0.75" fill="#a8283f"/><circle cx="504.2" cy="262.3" r="0.75" fill="#a8283f"/><circle cx="546.6" cy="308.2" r="0.75" fill="#a8283f"/><circle cx="548.1" cy="257.4" r="0.75" fill="#a8283f"/><circle cx="559.8" cy="255.9" r="0.75" fill="#a8283f"/><circle cx="503.9" cy="261.6" r="0.75" fill="#a8283f"/><circle cx="538.8" cy="303.2" r="0.75" fill="#a8283f"/><circle cx="567.8" cy="306.7" r="0.75" fill="#a8283f"/><circle cx="577.8" cy="274.7" r="0.75" fill="#a8283f"/><circle cx="463.6" cy="316.2" r="0.75" fill="#a8283f"/><circle cx="493.2" cy="333.9" r="0.75" fill="#a8283f"/><circle cx="491.2" cy="343.1" r="0.75" fill="#a8283f"/><circle cx="539.3" cy="303.9" r="0.75" fill="#a8283f"/><circle cx="555.5" cy="329.3" r="0.75" fill="#a8283f"/><circle cx="545.5" cy="351.6" r="0.75" fill="#a8283f"/><circle cx="553" cy="241.7" r="0.75" fill="#a8283f"/><circle cx="548.4" cy="257.8" r="0.75" fill="#a8283f"/><ellipse cx="495.9" cy="299.3" rx="1.2" ry="1.2" transform="rotate(0 495.9 299.3)" fill="#fdbb6e" stroke="#f08a4a" stroke-width="0.9"/><ellipse cx="545" cy="288.5" rx="1.7" ry="1.7" transform="rotate(0 545 288.5)" fill="#fff0c0" stroke="#ee7a40" stroke-width="0.9"/></g><path d="M457.6 286.2 C459.5 283 463 281.6 466.5 281.8 C469.8 282.2 470.6 284.6 470.2 286.6 C469.6 288.8 466 289.6 462.5 289.3 C460 289 457.6 287.6 457.6 286.2Z" fill="#f67a49" stroke="#d73027" stroke-width="1"/><ellipse cx="464.6" cy="285.6" rx="3.6" ry="2.3" transform="rotate(-8 464.6 285.6)" fill="#fee08b"/><ellipse cx="465" cy="285.5" rx="2.3" ry="1.4" transform="rotate(-8 465 285.5)" fill="#d73027"/><ellipse cx="499.9" cy="279.8" rx="7.65" ry="5.85" transform="rotate(-25 499.9 279.8)" fill="#d73027"/><ellipse cx="499.9" cy="279.8" rx="6.8999999999999995" ry="5.1" transform="rotate(-25 499.9 279.8)" fill="#fdc776"/><ellipse cx="499.9" cy="279.8" rx="6.3" ry="4.5" transform="rotate(-25 499.9 279.8)" fill="#a90f28"/>
<circle cx="500.5" cy="279.7" r="74.9" fill="none" stroke="#000" stroke-width="1.55" stroke-dasharray="5.5 2.2"/>
<rect x="466.6" y="228.3" width="67.7" height="23.8" fill="#fff" fill-opacity="0.82" stroke="#6a6a6a" stroke-width="0.75"/><text x="500.4" y="237.8" font-size="10.7" text-anchor="middle" stroke-width="0.15">PSO J159-02</text><text x="500.4" y="249.3" font-size="10.7" text-anchor="middle" stroke-width="0.15">256.0GHz</text><rect x="458.8" y="293.1" width="12.8" height="9.6" fill="#fff" fill-opacity="0.82" stroke="#6a6a6a" stroke-width="0.75"/><text x="465.2" y="300.4" font-size="8.4" text-anchor="middle" stroke-width="0.15">C1</text><rect x="490" y="288.5" width="20.4" height="9.6" fill="#fff" fill-opacity="0.82" stroke="#6a6a6a" stroke-width="0.75"/><text x="500.2" y="295.8" font-size="8.4" text-anchor="middle" stroke-width="0.15">QSO</text>
</g>
<rect x="423.1" y="350.2" width="8.5" height="7.2" fill="#fff" fill-opacity="0.9" stroke="#707070" stroke-width="0.7"/>
<ellipse cx="427.3" cy="353.7" rx="3.4" ry="2.5" transform="rotate(-15 427.3 353.7)" fill="#a0a0a0" stroke="#505050" stroke-width="0.8"/>
<rect x="421.4" y="200.7" width="158.3" height="158.3" fill="none" stroke="#8a8a8a" stroke-width="0.8"/>
<path d="M570.47 200.7v2.0M570.47 359.0v-2.0M421.4 351.50h2.0M579.7 351.50h-2.0M561.63 200.7v2.0M561.63 359.0v-2.0M421.4 342.60h2.0M579.7 342.60h-2.0M552.79 200.7v2.0M552.79 359.0v-2.0M421.4 333.70h2.0M579.7 333.70h-2.0M543.95 200.7v5.2M543.95 359.0v-5.2M421.4 324.80h5.2M579.7 324.80h-5.2M535.11 200.7v2.0M535.11 359.0v-2.0M421.4 315.90h2.0M579.7 315.90h-2.0M526.27 200.7v2.0M526.27 359.0v-2.0M421.4 307.00h2.0M579.7 307.00h-2.0M517.43 200.7v2.0M517.43 359.0v-2.0M421.4 298.10h2.0M579.7 298.10h-2.0M508.59 200.7v2.0M508.59 359.0v-2.0M421.4 289.20h2.0M579.7 289.20h-2.0M499.75 200.7v5.2M499.75 359.0v-5.2M421.4 280.30h5.2M579.7 280.30h-5.2M490.91 200.7v2.0M490.91 359.0v-2.0M421.4 271.40h2.0M579.7 271.40h-2.0M482.07 200.7v2.0M482.07 359.0v-2.0M421.4 262.50h2.0M579.7 262.50h-2.0M473.23 200.7v2.0M473.23 359.0v-2.0M421.4 253.60h2.0M579.7 253.60h-2.0M464.39 200.7v2.0M464.39 359.0v-2.0M421.4 244.70h2.0M579.7 244.70h-2.0M455.55 200.7v5.2M455.55 359.0v-5.2M421.4 235.80h5.2M579.7 235.80h-5.2M446.71 200.7v2.0M446.71 359.0v-2.0M421.4 226.90h2.0M579.7 226.90h-2.0M437.87 200.7v2.0M437.87 359.0v-2.0M421.4 218.00h2.0M579.7 218.00h-2.0M429.03 200.7v2.0M429.03 359.0v-2.0M421.4 209.10h2.0M579.7 209.10h-2.0" stroke="#000" stroke-width="1.35" fill="none"/>
<text x="455.6" y="370.9" font-size="12.8" text-anchor="middle">10</text>
<text x="419.3" y="240.4" font-size="12.8" text-anchor="end">10</text>
<text x="499.8" y="370.9" font-size="12.8" text-anchor="middle">0</text>
<text x="419.3" y="284.9" font-size="12.8" text-anchor="end">0</text>
<text x="544.0" y="370.9" font-size="12.8" text-anchor="middle">-10</text>
<text x="419.3" y="329.4" font-size="12.8" text-anchor="end">-10</text>
<text y="383.5" font-size="12.8" style="font-kerning:none"><tspan x="475.3" font-size="11.9">Δ</tspan><tspan x="488.0">R</tspan><tspan x="497.2">A (</tspan><tspan x="520.8">)</tspan></text>
<text x="515.8" y="387.9" font-size="18" textLength="3.9" lengthAdjust="spacingAndGlyphs" stroke-width="0.1">′′</text>
<g transform="translate(406.0 280.0) rotate(-90)"><text y="0" font-size="12.8" style="font-kerning:none"><tspan x="-28.7" font-size="11.9">Δ</tspan><tspan x="-16.4">Dec (</tspan><tspan x="23.8">)</tspan></text><text x="18.8" y="4.4" font-size="18" textLength="3.9" lengthAdjust="spacingAndGlyphs" stroke-width="0.1">′′</text></g>
<rect x="584.1" y="200.7" width="11" height="158.3" fill="url(#cb5)" stroke="#8a8a8a" stroke-width="0.6"/>
<text x="596.6" y="356.6" font-size="10.2" stroke-width="0.28">-0.05</text>
<text x="596.6" y="320.1" font-size="10.2" stroke-width="0.28">0.00</text>
<text x="596.6" y="283.6" font-size="10.2" stroke-width="0.28">0.05</text>
<text x="596.6" y="247.1" font-size="10.2" stroke-width="0.28">0.10</text>
<text x="596.6" y="210.6" font-size="10.2" stroke-width="0.28">0.15</text>
<path d="M595.1 352.90h-3.6M595.1 345.60h-1.8M595.1 338.30h-1.8M595.1 331.00h-1.8M595.1 323.70h-1.8M595.1 316.40h-3.6M595.1 309.10h-1.8M595.1 301.80h-1.8M595.1 294.50h-1.8M595.1 287.20h-1.8M595.1 279.90h-3.6M595.1 272.60h-1.8M595.1 265.30h-1.8M595.1 258.00h-1.8M595.1 250.70h-1.8M595.1 243.40h-3.6M595.1 236.10h-1.8M595.1 228.80h-1.8M595.1 221.50h-1.8M595.1 214.20h-1.8M595.1 206.90h-3.6" stroke="#000" stroke-width="1" fill="none"/>
<text transform="translate(628.0 281.1) rotate(-90)" font-size="10.5" text-anchor="middle" stroke-width="0.25">[mJy/beam]</text>
</g>
</svg>
</body></html>
